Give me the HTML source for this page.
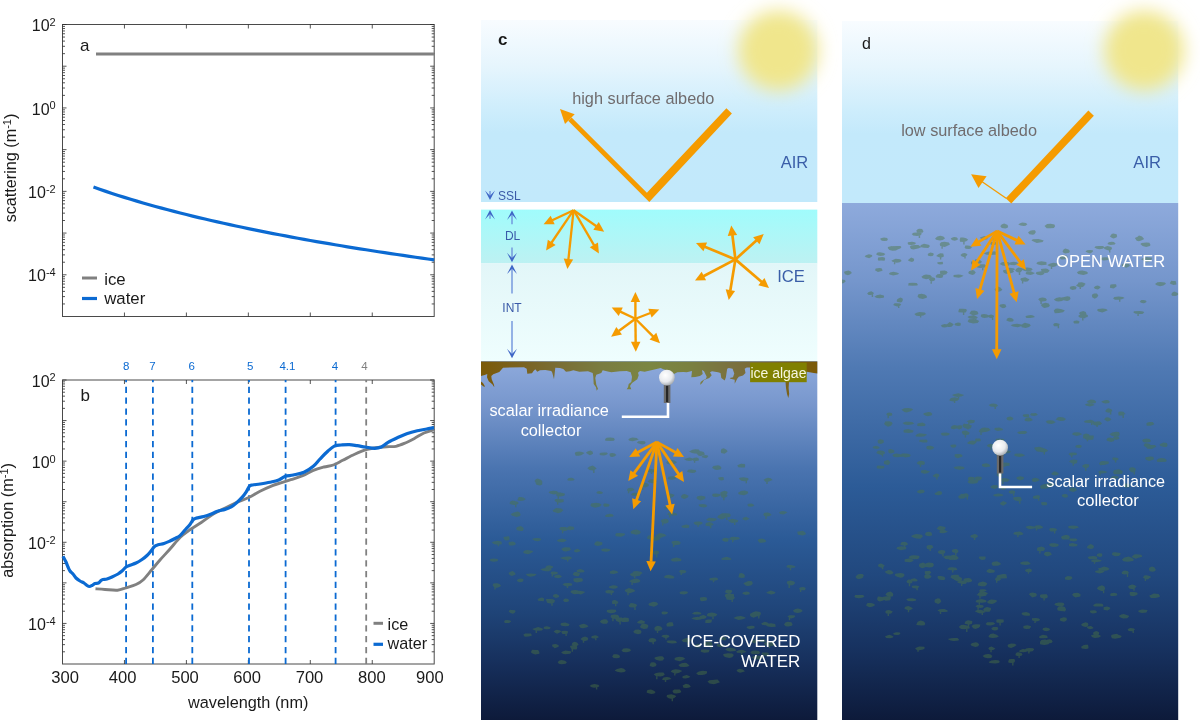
<!DOCTYPE html>
<html><head><meta charset="utf-8"><title>figure</title>
<style>html,body{margin:0;padding:0;background:#fff;}body{width:1200px;height:720px;overflow:hidden;}svg{display:block;}</style>
</head><body>
<svg width="1200" height="720" viewBox="0 0 1200 720" style="will-change:transform" font-family='"Liberation Sans", sans-serif'>
<rect width="1200" height="720" fill="#fff"/>
<rect x="62.5" y="24.5" width="371.7" height="292.0" fill="none" stroke="#2a2a2a" stroke-width="1" opacity="0.85"/>
<path d="M62.5 24.50h4M434.2 24.50h-4M62.5 53.66h2.5M434.2 53.66h-2.5M62.5 46.31h2.5M434.2 46.31h-2.5M62.5 41.10h2.5M434.2 41.10h-2.5M62.5 37.06h2.5M434.2 37.06h-2.5M62.5 33.75h2.5M434.2 33.75h-2.5M62.5 30.96h2.5M434.2 30.96h-2.5M62.5 28.54h2.5M434.2 28.54h-2.5M62.5 26.41h2.5M434.2 26.41h-2.5M62.5 66.21h4M434.2 66.21h-4M62.5 95.37h2.5M434.2 95.37h-2.5M62.5 88.03h2.5M434.2 88.03h-2.5M62.5 82.81h2.5M434.2 82.81h-2.5M62.5 78.77h2.5M434.2 78.77h-2.5M62.5 75.47h2.5M434.2 75.47h-2.5M62.5 72.68h2.5M434.2 72.68h-2.5M62.5 70.26h2.5M434.2 70.26h-2.5M62.5 68.12h2.5M434.2 68.12h-2.5M62.5 107.93h4M434.2 107.93h-4M62.5 137.09h2.5M434.2 137.09h-2.5M62.5 129.74h2.5M434.2 129.74h-2.5M62.5 124.53h2.5M434.2 124.53h-2.5M62.5 120.49h2.5M434.2 120.49h-2.5M62.5 117.18h2.5M434.2 117.18h-2.5M62.5 114.39h2.5M434.2 114.39h-2.5M62.5 111.97h2.5M434.2 111.97h-2.5M62.5 109.84h2.5M434.2 109.84h-2.5M62.5 149.64h4M434.2 149.64h-4M62.5 178.80h2.5M434.2 178.80h-2.5M62.5 171.45h2.5M434.2 171.45h-2.5M62.5 166.24h2.5M434.2 166.24h-2.5M62.5 162.20h2.5M434.2 162.20h-2.5M62.5 158.90h2.5M434.2 158.90h-2.5M62.5 156.10h2.5M434.2 156.10h-2.5M62.5 153.69h2.5M434.2 153.69h-2.5M62.5 151.55h2.5M434.2 151.55h-2.5M62.5 191.36h4M434.2 191.36h-4M62.5 220.51h2.5M434.2 220.51h-2.5M62.5 213.17h2.5M434.2 213.17h-2.5M62.5 207.96h2.5M434.2 207.96h-2.5M62.5 203.91h2.5M434.2 203.91h-2.5M62.5 200.61h2.5M434.2 200.61h-2.5M62.5 197.82h2.5M434.2 197.82h-2.5M62.5 195.40h2.5M434.2 195.40h-2.5M62.5 193.27h2.5M434.2 193.27h-2.5M62.5 233.07h4M434.2 233.07h-4M62.5 262.23h2.5M434.2 262.23h-2.5M62.5 254.88h2.5M434.2 254.88h-2.5M62.5 249.67h2.5M434.2 249.67h-2.5M62.5 245.63h2.5M434.2 245.63h-2.5M62.5 242.33h2.5M434.2 242.33h-2.5M62.5 239.53h2.5M434.2 239.53h-2.5M62.5 237.11h2.5M434.2 237.11h-2.5M62.5 234.98h2.5M434.2 234.98h-2.5M62.5 274.79h4M434.2 274.79h-4M62.5 303.94h2.5M434.2 303.94h-2.5M62.5 296.60h2.5M434.2 296.60h-2.5M62.5 291.39h2.5M434.2 291.39h-2.5M62.5 287.34h2.5M434.2 287.34h-2.5M62.5 284.04h2.5M434.2 284.04h-2.5M62.5 281.25h2.5M434.2 281.25h-2.5M62.5 278.83h2.5M434.2 278.83h-2.5M62.5 276.69h2.5M434.2 276.69h-2.5M124.45 316.5v-4M124.45 24.5v4M186.40 316.5v-4M186.40 24.5v4M248.35 316.5v-4M248.35 24.5v4M310.30 316.5v-4M310.30 24.5v4M372.25 316.5v-4M372.25 24.5v4" stroke="#2a2a2a" stroke-width="1" fill="none" opacity="0.8"/>
<text x="55.7" y="31.1" text-anchor="end" font-size="16" fill="#1a1a1a">10<tspan font-size="11" dy="-5.2">2</tspan></text>
<text x="55.7" y="114.5" text-anchor="end" font-size="16" fill="#1a1a1a">10<tspan font-size="11" dy="-5.2">0</tspan></text>
<text x="55.7" y="198.0" text-anchor="end" font-size="16" fill="#1a1a1a">10<tspan font-size="11" dy="-5.2">-2</tspan></text>
<text x="55.7" y="281.4" text-anchor="end" font-size="16" fill="#1a1a1a">10<tspan font-size="11" dy="-5.2">-4</tspan></text>
<text x="80" y="51" font-size="17" fill="#1a1a1a">a</text>
<line x1="96" y1="54" x2="434" y2="54" stroke="#808080" stroke-width="3"/>
<path d="M93.47 187.10 L99.67 189.27 L105.87 191.38 L112.06 193.43 L118.25 195.43 L124.45 197.38 L130.64 199.28 L136.84 201.14 L143.03 202.95 L149.23 204.72 L155.43 206.45 L161.62 208.14 L167.81 209.80 L174.01 211.42 L180.20 213.01 L186.40 214.56 L192.59 216.09 L198.79 217.58 L204.99 219.05 L211.18 220.49 L217.38 221.90 L223.57 223.29 L229.76 224.65 L235.96 225.99 L242.16 227.31 L248.35 228.60 L254.55 229.87 L260.74 231.12 L266.94 232.36 L273.13 233.57 L279.33 234.76 L285.52 235.94 L291.72 237.10 L297.91 238.24 L304.11 239.36 L310.30 240.47 L316.50 241.56 L322.69 242.64 L328.88 243.70 L335.08 244.75 L341.27 245.78 L347.47 246.80 L353.66 247.81 L359.86 248.80 L366.06 249.78 L372.25 250.75 L378.44 251.71 L384.64 252.65 L390.83 253.58 L397.03 254.51 L403.22 255.42 L409.42 256.32 L415.61 257.21 L421.81 258.09 L428.00 258.96 L434.20 259.82" stroke="#0b6ad2" stroke-width="3.2" fill="none"/>
<line x1="82" y1="278" x2="97" y2="278" stroke="#808080" stroke-width="3"/>
<line x1="82" y1="298.5" x2="97" y2="298.5" stroke="#0b6ad2" stroke-width="3.2"/>
<text x="104.2" y="284.7" font-size="16.8" fill="#1a1a1a">ice</text>
<text x="104.2" y="304.4" font-size="16.8" fill="#1a1a1a">water</text>
<text transform="translate(16.4 168) rotate(-90)" text-anchor="middle" font-size="16.2" fill="#1a1a1a">scattering (m<tspan font-size="11" dy="-5.2">-1</tspan><tspan dy="5.2">)</tspan></text>
<rect x="62.5" y="380" width="371.7" height="284" fill="none" stroke="#2a2a2a" stroke-width="1" opacity="0.85"/>
<path d="M62.5 380.00h4M434.2 380.00h-4M62.5 408.36h2.5M434.2 408.36h-2.5M62.5 401.21h2.5M434.2 401.21h-2.5M62.5 396.14h2.5M434.2 396.14h-2.5M62.5 392.21h2.5M434.2 392.21h-2.5M62.5 389.00h2.5M434.2 389.00h-2.5M62.5 386.28h2.5M434.2 386.28h-2.5M62.5 383.93h2.5M434.2 383.93h-2.5M62.5 381.86h2.5M434.2 381.86h-2.5M62.5 420.57h4M434.2 420.57h-4M62.5 448.93h2.5M434.2 448.93h-2.5M62.5 441.79h2.5M434.2 441.79h-2.5M62.5 436.72h2.5M434.2 436.72h-2.5M62.5 432.78h2.5M434.2 432.78h-2.5M62.5 429.57h2.5M434.2 429.57h-2.5M62.5 426.86h2.5M434.2 426.86h-2.5M62.5 424.50h2.5M434.2 424.50h-2.5M62.5 422.43h2.5M434.2 422.43h-2.5M62.5 461.14h4M434.2 461.14h-4M62.5 489.50h2.5M434.2 489.50h-2.5M62.5 482.36h2.5M434.2 482.36h-2.5M62.5 477.29h2.5M434.2 477.29h-2.5M62.5 473.36h2.5M434.2 473.36h-2.5M62.5 470.14h2.5M434.2 470.14h-2.5M62.5 467.43h2.5M434.2 467.43h-2.5M62.5 465.07h2.5M434.2 465.07h-2.5M62.5 463.00h2.5M434.2 463.00h-2.5M62.5 501.71h4M434.2 501.71h-4M62.5 530.07h2.5M434.2 530.07h-2.5M62.5 522.93h2.5M434.2 522.93h-2.5M62.5 517.86h2.5M434.2 517.86h-2.5M62.5 513.93h2.5M434.2 513.93h-2.5M62.5 510.72h2.5M434.2 510.72h-2.5M62.5 508.00h2.5M434.2 508.00h-2.5M62.5 505.65h2.5M434.2 505.65h-2.5M62.5 503.57h2.5M434.2 503.57h-2.5M62.5 542.29h4M434.2 542.29h-4M62.5 570.64h2.5M434.2 570.64h-2.5M62.5 563.50h2.5M434.2 563.50h-2.5M62.5 558.43h2.5M434.2 558.43h-2.5M62.5 554.50h2.5M434.2 554.50h-2.5M62.5 551.29h2.5M434.2 551.29h-2.5M62.5 548.57h2.5M434.2 548.57h-2.5M62.5 546.22h2.5M434.2 546.22h-2.5M62.5 544.14h2.5M434.2 544.14h-2.5M62.5 582.86h4M434.2 582.86h-4M62.5 611.22h2.5M434.2 611.22h-2.5M62.5 604.07h2.5M434.2 604.07h-2.5M62.5 599.00h2.5M434.2 599.00h-2.5M62.5 595.07h2.5M434.2 595.07h-2.5M62.5 591.86h2.5M434.2 591.86h-2.5M62.5 589.14h2.5M434.2 589.14h-2.5M62.5 586.79h2.5M434.2 586.79h-2.5M62.5 584.71h2.5M434.2 584.71h-2.5M62.5 623.43h4M434.2 623.43h-4M62.5 651.79h2.5M434.2 651.79h-2.5M62.5 644.64h2.5M434.2 644.64h-2.5M62.5 639.57h2.5M434.2 639.57h-2.5M62.5 635.64h2.5M434.2 635.64h-2.5M62.5 632.43h2.5M434.2 632.43h-2.5M62.5 629.71h2.5M434.2 629.71h-2.5M62.5 627.36h2.5M434.2 627.36h-2.5M62.5 625.29h2.5M434.2 625.29h-2.5M124.45 664v-4M124.45 380v4M186.40 664v-4M186.40 380v4M248.35 664v-4M248.35 380v4M310.30 664v-4M310.30 380v4M372.25 664v-4M372.25 380v4" stroke="#2a2a2a" stroke-width="1" fill="none" opacity="0.8"/>
<text x="55.7" y="386.6" text-anchor="end" font-size="16" fill="#1a1a1a">10<tspan font-size="11" dy="-5.2">2</tspan></text>
<text x="55.7" y="467.7" text-anchor="end" font-size="16" fill="#1a1a1a">10<tspan font-size="11" dy="-5.2">0</tspan></text>
<text x="55.7" y="548.9" text-anchor="end" font-size="16" fill="#1a1a1a">10<tspan font-size="11" dy="-5.2">-2</tspan></text>
<text x="55.7" y="630.0" text-anchor="end" font-size="16" fill="#1a1a1a">10<tspan font-size="11" dy="-5.2">-4</tspan></text>
<text x="65.2" y="683" text-anchor="middle" font-size="16.6" fill="#1a1a1a">300</text>
<text x="122.6" y="683" text-anchor="middle" font-size="16.6" fill="#1a1a1a">400</text>
<text x="185.0" y="683" text-anchor="middle" font-size="16.6" fill="#1a1a1a">500</text>
<text x="247.2" y="683" text-anchor="middle" font-size="16.6" fill="#1a1a1a">600</text>
<text x="309.5" y="683" text-anchor="middle" font-size="16.6" fill="#1a1a1a">700</text>
<text x="371.9" y="683" text-anchor="middle" font-size="16.6" fill="#1a1a1a">800</text>
<text x="429.9" y="683" text-anchor="middle" font-size="16.6" fill="#1a1a1a">900</text>
<text x="80.5" y="401" font-size="17" fill="#1a1a1a">b</text>
<line x1="126.1" y1="664" x2="126.1" y2="380" stroke="#0b6ad2" stroke-width="1.8" stroke-dasharray="6.25 4.59"/>
<line x1="152.9" y1="664" x2="152.9" y2="380" stroke="#0b6ad2" stroke-width="1.8" stroke-dasharray="6.25 4.59"/>
<line x1="192.3" y1="664" x2="192.3" y2="380" stroke="#0b6ad2" stroke-width="1.8" stroke-dasharray="6.25 4.59"/>
<line x1="249.0" y1="664" x2="249.0" y2="380" stroke="#0b6ad2" stroke-width="1.8" stroke-dasharray="6.25 4.59"/>
<line x1="285.6" y1="664" x2="285.6" y2="380" stroke="#0b6ad2" stroke-width="1.8" stroke-dasharray="6.25 4.59"/>
<line x1="335.6" y1="664" x2="335.6" y2="380" stroke="#0b6ad2" stroke-width="1.8" stroke-dasharray="6.25 4.59"/>
<line x1="366.2" y1="664" x2="366.2" y2="380" stroke="#808080" stroke-width="1.8" stroke-dasharray="6.25 4.59"/>
<text x="126.3" y="370.3" text-anchor="middle" font-size="11.5" fill="#0b6ad2">8</text>
<text x="152.5" y="370.3" text-anchor="middle" font-size="11.5" fill="#0b6ad2">7</text>
<text x="191.7" y="370.3" text-anchor="middle" font-size="11.5" fill="#0b6ad2">6</text>
<text x="250.3" y="370.3" text-anchor="middle" font-size="11.5" fill="#0b6ad2">5</text>
<text x="287.4" y="370.3" text-anchor="middle" font-size="11.5" fill="#0b6ad2">4.1</text>
<text x="335.0" y="370.3" text-anchor="middle" font-size="11.5" fill="#0b6ad2">4</text>
<text x="364.4" y="370.3" text-anchor="middle" font-size="11.5" fill="#808080">4</text>
<path d="M95.50 588.80C97.08 588.92 101.33 589.27 105.00 589.50C108.67 589.73 114.00 590.48 117.50 590.20C121.00 589.92 122.92 588.75 126.00 587.80C129.08 586.85 133.17 585.80 136.00 584.50C138.83 583.20 140.33 582.50 143.00 580.00C145.67 577.50 149.17 572.83 152.00 569.50C154.83 566.17 157.00 563.42 160.00 560.00C163.00 556.58 166.67 552.75 170.00 549.00C173.33 545.25 176.88 540.57 180.00 537.50C183.12 534.43 185.21 533.10 188.75 530.60C192.29 528.10 197.08 525.31 201.25 522.50C205.42 519.69 209.58 516.25 213.75 513.75C217.92 511.25 222.50 509.38 226.25 507.50C230.00 505.62 232.50 504.17 236.25 502.50C240.00 500.83 244.79 499.38 248.75 497.50C252.71 495.62 256.04 493.23 260.00 491.25C263.96 489.27 269.17 486.94 272.50 485.60C275.83 484.26 276.97 484.18 280.00 483.20C283.03 482.22 286.92 480.95 290.70 479.70C294.48 478.45 298.93 477.27 302.70 475.70C306.47 474.13 309.75 471.75 313.30 470.30C316.85 468.85 320.67 467.88 324.00 467.00C327.33 466.12 330.18 466.12 333.30 465.00C336.42 463.88 339.13 462.08 342.70 460.30C346.27 458.52 350.82 456.07 354.70 454.30C358.58 452.53 362.45 450.80 366.00 449.70C369.55 448.60 372.55 448.20 376.00 447.70C379.45 447.20 383.37 446.93 386.70 446.70C390.03 446.47 392.90 446.92 396.00 446.30C399.10 445.68 402.18 444.33 405.30 443.00C408.42 441.67 411.58 439.97 414.70 438.30C417.82 436.63 420.78 434.43 424.00 433.00C427.22 431.57 432.33 430.25 434.00 429.70" stroke="#808080" stroke-width="2.9" fill="none" stroke-linejoin="round"/>
<path d="M63.00 556.20C63.50 557.17 65.17 560.20 66.00 562.00C66.83 563.80 67.33 565.50 68.00 567.00C68.67 568.50 69.17 569.83 70.00 571.00C70.83 572.17 72.00 572.83 73.00 574.00C74.00 575.17 74.83 576.83 76.00 578.00C77.17 579.17 78.67 580.17 80.00 581.00C81.33 581.83 82.83 582.25 84.00 583.00C85.17 583.75 86.08 584.92 87.00 585.50C87.92 586.08 88.67 586.50 89.50 586.50C90.33 586.50 91.08 586.00 92.00 585.50C92.92 585.00 93.92 583.92 95.00 583.50C96.08 583.08 97.50 583.50 98.50 583.00C99.50 582.50 100.25 581.08 101.00 580.50C101.75 579.92 102.00 579.75 103.00 579.50C104.00 579.25 105.50 579.42 107.00 579.00C108.50 578.58 110.17 577.83 112.00 577.00C113.83 576.17 116.33 575.00 118.00 574.00C119.67 573.00 120.67 572.17 122.00 571.00C123.33 569.83 124.67 567.97 126.00 567.00C127.33 566.03 128.33 565.87 130.00 565.20C131.67 564.53 134.00 563.95 136.00 563.00C138.00 562.05 140.17 560.75 142.00 559.50C143.83 558.25 145.50 556.92 147.00 555.50C148.50 554.08 149.75 552.50 151.00 551.00C152.25 549.50 153.33 547.53 154.50 546.50C155.67 545.47 156.42 545.30 158.00 544.80C159.58 544.30 162.00 544.13 164.00 543.50C166.00 542.87 168.17 541.83 170.00 541.00C171.83 540.17 173.33 539.40 175.00 538.50C176.67 537.60 178.33 537.02 180.00 535.60C181.67 534.18 183.33 531.87 185.00 530.00C186.67 528.13 188.65 526.11 190.00 524.40C191.35 522.69 192.06 520.80 193.10 519.75C194.14 518.70 194.47 518.64 196.25 518.10C198.03 517.56 201.25 517.18 203.75 516.50C206.25 515.82 208.96 514.88 211.25 514.00C213.54 513.12 215.21 512.02 217.50 511.25C219.79 510.48 222.71 510.12 225.00 509.40C227.29 508.67 229.38 507.95 231.25 506.90C233.12 505.85 234.38 504.77 236.25 503.10C238.12 501.43 240.83 498.77 242.50 496.90C244.17 495.03 245.10 493.67 246.25 491.90C247.40 490.12 248.36 487.40 249.40 486.25C250.44 485.10 250.73 485.38 252.50 485.00C254.27 484.62 257.08 484.46 260.00 484.00C262.92 483.54 266.88 482.92 270.00 482.25C273.12 481.58 276.20 480.99 278.75 480.00C281.30 479.01 282.88 477.13 285.30 476.30C287.73 475.47 290.18 475.67 293.30 475.00C296.42 474.33 300.67 473.75 304.00 472.30C307.33 470.85 310.63 468.52 313.30 466.30C315.97 464.08 317.55 461.55 320.00 459.00C322.45 456.45 325.55 453.18 328.00 451.00C330.45 448.82 332.48 446.90 334.70 445.90C336.92 444.90 338.87 445.22 341.30 445.00C343.73 444.78 346.63 444.48 349.30 444.60C351.97 444.72 354.63 445.30 357.30 445.70C359.97 446.10 362.40 446.57 365.30 447.00C368.20 447.43 372.03 448.30 374.70 448.30C377.37 448.30 379.08 448.00 381.30 447.00C383.52 446.00 385.33 443.85 388.00 442.30C390.67 440.75 394.18 439.13 397.30 437.70C400.42 436.27 403.37 434.87 406.70 433.70C410.03 432.53 413.97 431.48 417.30 430.70C420.63 429.92 423.92 429.50 426.70 429.00C429.48 428.50 432.78 427.92 434.00 427.70" stroke="#0b6ad2" stroke-width="3.2" fill="none" stroke-linejoin="round"/>
<line x1="373.5" y1="623.3" x2="383" y2="623.3" stroke="#808080" stroke-width="3"/>
<line x1="373.5" y1="644.3" x2="383" y2="644.3" stroke="#0b6ad2" stroke-width="3.2"/>
<text x="387.6" y="629.7" font-size="16.2" fill="#1a1a1a">ice</text>
<text x="387.6" y="648.6" font-size="16.2" fill="#1a1a1a">water</text>
<text transform="translate(12.8 520.4) rotate(-90)" text-anchor="middle" font-size="16.3" fill="#1a1a1a">absorption (m<tspan font-size="11" dy="-5.2">-1</tspan><tspan dy="5.2">)</tspan></text>
<text x="248.2" y="707.7" text-anchor="middle" font-size="16.3" fill="#1a1a1a">wavelength (nm)</text>
<defs>
<linearGradient id="air" x1="0" y1="0" x2="0" y2="1">
 <stop offset="0" stop-color="#f8fcff"/><stop offset="0.25" stop-color="#e6f5fd"/><stop offset="0.5" stop-color="#cdedfc"/><stop offset="0.62" stop-color="#c3e9fb"/><stop offset="1" stop-color="#c2e9fb"/>
</linearGradient>
<linearGradient id="dl" x1="0" y1="0" x2="0" y2="1">
 <stop offset="0" stop-color="#a0fcfc"/><stop offset="1" stop-color="#bdf1f2"/>
</linearGradient>
<linearGradient id="int" x1="0" y1="0" x2="0" y2="1">
 <stop offset="0" stop-color="#e2f6f8"/><stop offset="1" stop-color="#effefe"/>
</linearGradient>
<linearGradient id="wc" x1="0" y1="0" x2="0" y2="1">
 <stop offset="0" stop-color="#8eaadc"/><stop offset="0.12" stop-color="#7897cd"/><stop offset="0.3" stop-color="#4a74b0"/><stop offset="0.5" stop-color="#2b5a96"/><stop offset="0.7" stop-color="#1f4478"/><stop offset="0.85" stop-color="#162e5a"/><stop offset="1" stop-color="#0d1a3a"/>
</linearGradient>
<linearGradient id="wd" x1="0" y1="0" x2="0" y2="1">
 <stop offset="0" stop-color="#8eaadc"/><stop offset="0.15" stop-color="#7596cc"/><stop offset="0.32" stop-color="#4f79b3"/><stop offset="0.55" stop-color="#2c5b97"/><stop offset="0.72" stop-color="#21487e"/><stop offset="0.86" stop-color="#173260"/><stop offset="1" stop-color="#0d1a3a"/>
</linearGradient>
<linearGradient id="alg" gradientUnits="userSpaceOnUse" x1="481" y1="0" x2="817.3" y2="0"><stop offset="0.000" stop-color="#7b5a08"/><stop offset="0.116" stop-color="#7a6220"/><stop offset="0.235" stop-color="#7a6e35"/><stop offset="0.354" stop-color="#7a7c40"/><stop offset="0.503" stop-color="#7b8642"/><stop offset="0.621" stop-color="#7a8040"/><stop offset="0.740" stop-color="#7a7140"/><stop offset="0.859" stop-color="#7a6830"/><stop offset="0.949" stop-color="#7b5d0c"/><stop offset="1.000" stop-color="#7b5a08"/></linearGradient>
<radialGradient id="ball" cx="0.4" cy="0.35" r="0.7">
 <stop offset="0" stop-color="#ffffff"/><stop offset="0.6" stop-color="#e8eaee"/><stop offset="1" stop-color="#9ea4aa"/>
</radialGradient>
<filter id="sunblur" x="-50%" y="-50%" width="200%" height="200%"><feGaussianBlur stdDeviation="9"/></filter>
<clipPath id="cclip"><rect x="481" y="361" width="336.3" height="359"/></clipPath>
<clipPath id="dclip"><rect x="842" y="203" width="336.2" height="517"/></clipPath>
</defs>
<rect x="481.0" y="20" width="336.29999999999995" height="182" fill="url(#air)"/>
<rect x="481.0" y="209.6" width="336.29999999999995" height="53.8" fill="url(#dl)"/>
<rect x="481.0" y="263.4" width="336.29999999999995" height="97.8" fill="url(#int)"/>
<rect x="481.0" y="361" width="336.29999999999995" height="359" fill="url(#wc)"/>
<rect x="842.0" y="21" width="336.20000000000005" height="182" fill="url(#air)"/>
<rect x="842.0" y="203" width="336.20000000000005" height="517" fill="url(#wd)"/>
<g clip-path="url(#cclip)" fill="#4d7542" opacity="0.45"><path d="M640.5 580.9 L639.2 582.2 L634.6 583.2 L632.0 582.4 L629.0 581.3 L632.1 579.6 L636.2 578.5 L639.2 579.5ZM631.4 580.9h1.4v4.0h-1.4Z"/><path d="M662.5 447.5 L662.0 449.3 L658.9 449.8 L656.2 449.2 L655.6 447.9 L656.6 446.0 L659.5 445.9 L661.1 446.6ZM656.6 447.8h1.4v3.6h-1.4Z"/><path d="M739.9 538.9 L738.0 539.5 L733.3 540.4 L730.0 539.6 L728.8 538.9 L731.2 537.1 L733.3 536.7 L738.9 537.3ZM732.0 538.5h1.4v3.8h-1.4Z"/><path d="M748.7 479.0 L747.7 480.5 L744.5 481.2 L741.3 480.7 L738.9 478.8 L739.9 477.7 L743.4 477.3 L747.7 478.0ZM745.6 479.3h1.4v4.0h-1.4Z"/><path d="M563.6 500.6 L563.6 501.9 L559.9 502.7 L556.1 502.1 L554.5 500.4 L555.5 499.1 L558.8 499.0 L564.0 499.4ZM557.0 500.7h1.4v3.7h-1.4Z"/><path d="M775.6 592.2 L774.3 593.7 L771.2 594.5 L767.9 593.6 L766.2 592.8 L767.7 591.7 L770.9 590.6 L773.6 591.5Z"/><path d="M580.5 550.5 L579.6 551.6 L576.4 552.6 L574.3 551.8 L574.1 550.5 L574.8 549.7 L577.7 548.7 L579.3 549.7Z"/><path d="M648.4 625.9 L647.3 628.6 L644.0 629.0 L640.8 628.1 L640.1 626.5 L641.7 624.0 L644.2 623.5 L647.7 624.8Z"/><path d="M618.3 587.1 L615.8 588.5 L613.0 588.8 L609.5 588.1 L608.9 586.8 L610.4 585.9 L613.0 585.3 L615.9 585.6Z"/><path d="M690.3 676.7 L688.8 677.7 L685.5 678.5 L683.1 678.2 L682.1 677.0 L683.2 675.9 L686.7 675.0 L689.1 675.9Z"/><path d="M596.7 468.6 L594.3 470.0 L592.6 470.6 L589.5 469.9 L587.4 468.3 L589.1 466.7 L592.7 465.4 L594.6 466.8ZM593.1 468.2h1.4v4.7h-1.4Z"/><path d="M677.2 514.0 L677.0 515.2 L672.8 515.6 L669.3 515.6 L667.0 514.2 L668.6 512.8 L673.3 512.5 L675.4 512.9ZM668.9 514.2h1.4v3.2h-1.4Z"/><path d="M645.1 621.8 L643.9 623.4 L640.9 623.8 L637.9 623.3 L637.0 622.3 L639.2 620.7 L641.1 620.0 L644.0 620.9Z"/><path d="M774.7 644.1 L773.8 645.7 L769.5 646.2 L766.0 645.8 L763.6 643.5 L765.7 642.3 L769.4 641.6 L774.0 642.8ZM768.8 643.9h1.4v4.0h-1.4Z"/><path d="M669.5 636.5 L668.3 637.5 L666.2 638.2 L663.6 637.5 L661.2 636.3 L663.1 634.9 L666.7 634.7 L668.9 635.6ZM665.3 636.4h1.4v3.2h-1.4Z"/><path d="M588.5 626.2 L587.1 627.2 L582.9 628.3 L580.4 627.7 L579.0 625.5 L580.8 624.5 L583.8 623.8 L586.5 624.7Z"/><path d="M660.5 538.5 L659.3 539.8 L655.3 541.1 L651.3 539.7 L650.7 538.6 L650.9 536.9 L655.9 536.5 L658.0 537.1Z"/><path d="M558.4 492.3 L557.6 493.7 L554.1 494.4 L550.6 493.8 L548.6 492.4 L549.9 491.2 L553.4 490.8 L556.5 490.9Z"/><path d="M664.4 658.2 L662.7 660.6 L659.7 660.7 L656.0 659.7 L654.1 657.9 L656.0 657.1 L659.7 656.3 L662.4 656.2Z"/><path d="M745.2 465.1 L744.8 467.5 L741.0 467.4 L738.4 467.3 L737.2 465.5 L738.9 464.4 L741.1 463.7 L744.6 463.9Z"/><path d="M542.5 481.6 L540.8 482.3 L537.7 483.4 L535.6 482.5 L534.6 481.1 L535.5 479.4 L537.5 478.6 L540.9 479.8Z"/><path d="M728.6 539.8 L728.0 541.4 L725.3 541.8 L723.0 541.0 L721.9 539.7 L723.3 538.2 L725.2 537.8 L728.8 538.6Z"/><path d="M625.9 670.7 L624.4 672.1 L621.0 672.6 L617.2 671.8 L614.6 670.6 L617.0 669.0 L621.2 668.1 L623.9 668.7Z"/><path d="M666.5 535.8 L663.0 537.1 L660.2 538.0 L657.1 537.3 L655.6 536.0 L657.0 534.4 L659.8 533.1 L664.5 534.1Z"/><path d="M676.3 696.3 L673.9 698.2 L670.8 698.7 L668.6 698.2 L666.6 696.7 L667.0 695.1 L671.3 694.3 L674.8 695.2ZM671.6 696.7h1.4v4.6h-1.4Z"/><path d="M673.5 507.1 L672.7 508.4 L668.7 509.2 L664.8 508.6 L663.5 507.8 L666.8 506.1 L669.9 505.6 L673.2 505.8ZM668.6 507.4h1.4v3.7h-1.4Z"/><path d="M792.6 624.6 L791.8 625.8 L788.2 626.5 L785.7 626.3 L784.0 624.6 L785.4 622.4 L787.8 621.7 L791.4 622.2Z"/><path d="M727.7 495.7 L726.4 496.9 L723.8 497.9 L721.3 497.2 L721.0 495.2 L720.8 493.6 L724.7 492.7 L725.7 493.7ZM723.1 495.4h1.4v4.8h-1.4Z"/><path d="M693.7 459.0 L692.2 460.5 L689.2 460.9 L686.4 460.5 L683.9 459.1 L685.8 458.4 L689.6 457.5 L692.1 458.3Z"/><path d="M577.3 647.8 L576.7 649.2 L572.9 649.6 L571.2 648.8 L570.2 647.1 L570.1 646.1 L573.5 645.0 L576.5 645.6ZM571.6 647.4h1.4v4.3h-1.4Z"/><path d="M704.8 453.9 L704.2 455.0 L700.9 455.9 L698.7 455.7 L696.7 453.7 L698.6 451.6 L701.1 451.2 L703.6 452.1Z"/><path d="M574.4 528.1 L573.8 529.4 L570.0 530.2 L567.1 529.4 L566.0 528.5 L568.2 526.8 L569.7 526.3 L573.5 526.8Z"/><path d="M700.6 646.2 L700.8 647.3 L697.3 647.7 L695.6 647.2 L694.2 645.7 L695.4 644.7 L698.1 643.8 L700.3 644.7Z"/><path d="M802.7 611.1 L800.4 612.5 L797.4 613.1 L794.1 612.3 L793.0 610.5 L795.4 609.0 L798.0 608.6 L801.3 609.6Z"/><path d="M543.1 628.9 L541.9 630.4 L537.3 630.8 L535.1 630.4 L532.1 629.0 L534.5 628.2 L538.1 627.1 L541.9 628.2ZM535.6 629.2h1.4v3.8h-1.4Z"/><path d="M565.0 494.4 L564.0 495.8 L560.2 496.6 L556.7 496.3 L556.2 494.6 L557.3 492.6 L560.4 492.4 L564.7 493.4ZM557.6 494.6h1.4v4.2h-1.4Z"/><path d="M618.3 572.7 L616.5 573.3 L613.7 574.1 L609.9 573.6 L609.8 572.3 L610.4 571.3 L613.2 570.2 L617.0 571.0Z"/><path d="M580.2 573.7 L578.6 576.3 L576.8 576.3 L573.9 575.5 L572.7 574.2 L574.1 572.2 L576.7 572.1 L578.9 572.8Z"/><path d="M562.0 576.8 L560.7 577.5 L558.2 578.3 L554.6 577.6 L554.1 576.4 L554.6 575.4 L558.8 574.6 L560.6 575.6Z"/><path d="M721.6 494.7 L718.9 496.6 L716.2 497.0 L713.3 496.7 L712.1 495.3 L712.8 493.7 L716.0 493.4 L719.6 493.9Z"/><path d="M673.3 624.2 L673.3 626.0 L669.6 626.6 L666.8 626.5 L666.5 624.5 L667.1 623.2 L669.3 622.3 L672.5 622.3Z"/><path d="M658.3 604.1 L656.6 605.5 L653.9 606.7 L649.0 605.6 L648.4 604.0 L649.8 602.9 L653.3 601.7 L656.5 602.3Z"/><path d="M746.5 651.7 L744.2 652.7 L741.2 653.0 L737.0 652.8 L736.2 651.5 L738.7 650.3 L742.0 649.7 L743.6 650.3ZM740.9 651.5h1.4v3.4h-1.4Z"/><path d="M716.9 519.5 L714.9 521.0 L711.4 521.5 L708.3 520.9 L706.1 519.8 L708.9 517.7 L712.5 517.9 L716.2 518.5Z"/><path d="M572.4 584.6 L571.9 585.5 L566.9 586.6 L564.5 585.7 L562.5 584.4 L564.2 583.3 L568.6 583.1 L571.3 583.2ZM566.8 584.6h1.4v3.5h-1.4Z"/><path d="M676.1 478.2 L674.4 479.3 L671.7 479.8 L668.2 479.3 L667.7 478.2 L668.8 476.7 L672.5 476.2 L675.7 476.6Z"/><path d="M766.4 541.1 L765.1 542.3 L761.6 542.8 L759.6 542.7 L757.6 540.4 L759.0 539.1 L761.9 538.6 L764.3 539.3Z"/><path d="M653.9 537.6 L653.3 538.9 L651.1 539.4 L647.6 539.1 L647.0 537.4 L648.1 535.8 L650.4 535.1 L653.6 535.7ZM651.2 537.5h1.4v4.4h-1.4Z"/><path d="M536.1 574.8 L534.5 575.9 L530.2 576.8 L527.6 576.1 L526.6 575.0 L525.9 574.0 L530.7 573.4 L536.4 573.9Z"/><path d="M563.3 510.2 L561.2 512.2 L558.1 513.3 L553.3 511.8 L552.5 510.4 L554.6 508.9 L556.3 507.9 L561.3 508.4Z"/><path d="M721.4 467.8 L720.9 469.3 L717.0 470.1 L714.7 469.6 L712.0 467.7 L713.5 466.1 L718.1 465.3 L720.2 466.1Z"/><path d="M707.3 506.0 L706.1 506.9 L703.7 507.4 L700.0 506.8 L698.8 505.5 L698.8 504.4 L702.3 504.1 L705.8 504.6Z"/><path d="M641.5 631.7 L640.9 633.5 L638.1 634.3 L634.6 633.2 L633.2 631.7 L635.2 629.8 L638.5 629.5 L640.7 630.3Z"/><path d="M570.9 549.4 L569.6 550.6 L566.2 551.5 L563.4 551.2 L561.2 548.9 L563.7 547.5 L565.8 547.3 L569.8 547.5Z"/><path d="M578.6 644.5 L577.0 646.1 L575.5 646.7 L573.3 646.3 L571.7 644.3 L572.4 642.8 L574.5 641.7 L577.0 642.6ZM575.1 644.4h1.4v4.8h-1.4Z"/><path d="M757.6 641.2 L756.1 642.6 L754.6 643.5 L752.1 642.2 L750.9 641.3 L752.1 640.2 L755.0 639.6 L756.7 639.9Z"/><path d="M727.7 492.9 L726.0 494.8 L724.3 495.7 L721.6 494.3 L719.9 493.2 L721.0 492.0 L724.3 490.7 L727.2 491.5Z"/><path d="M620.0 656.0 L619.5 657.7 L616.7 658.3 L613.6 658.1 L612.1 656.4 L613.7 654.2 L616.7 654.2 L618.5 654.8Z"/><path d="M609.8 504.9 L608.7 506.6 L606.9 506.7 L604.3 506.7 L603.0 505.1 L604.2 503.4 L606.1 503.4 L608.5 503.9Z"/><path d="M598.8 636.9 L598.0 637.8 L594.6 638.4 L592.0 638.2 L591.0 637.0 L592.2 635.9 L595.2 635.2 L597.1 635.8ZM595.1 637.0h1.4v3.2h-1.4Z"/><path d="M625.0 534.7 L623.5 535.8 L621.1 536.7 L615.8 536.2 L615.3 534.5 L616.1 533.2 L619.4 532.9 L624.7 533.4Z"/><path d="M569.0 600.2 L568.5 601.5 L566.1 602.1 L564.1 601.8 L563.1 600.3 L564.1 598.9 L565.6 598.4 L568.2 599.0Z"/><path d="M718.2 579.1 L717.5 580.1 L714.5 580.8 L710.1 580.3 L709.2 579.3 L709.8 578.3 L714.4 577.5 L716.9 577.8ZM712.8 579.1h1.4v3.2h-1.4Z"/><path d="M690.8 686.4 L689.3 687.6 L686.6 688.0 L683.5 687.8 L682.6 685.6 L684.5 684.5 L685.8 683.8 L688.9 684.4Z"/><path d="M542.4 483.0 L541.9 484.7 L539.7 485.4 L536.5 484.7 L535.5 483.1 L536.7 481.1 L539.1 481.1 L542.2 482.0Z"/><path d="M717.4 614.3 L715.7 616.3 L712.0 616.8 L707.5 616.2 L706.8 614.8 L708.1 613.3 L711.8 612.6 L714.4 613.0ZM712.3 614.6h1.4v4.6h-1.4Z"/><path d="M533.3 551.8 L530.1 553.5 L528.1 554.2 L523.8 553.3 L523.1 552.0 L524.6 550.6 L527.3 549.9 L532.1 550.7Z"/><path d="M628.9 620.3 L628.6 621.7 L625.3 622.1 L622.2 622.1 L619.5 619.5 L620.9 618.5 L624.7 617.5 L628.6 618.0Z"/><path d="M511.2 621.6 L509.1 622.9 L507.6 623.1 L504.9 622.9 L504.1 621.8 L504.9 620.3 L507.1 620.1 L510.2 620.5Z"/><path d="M618.9 616.3 L619.3 618.2 L615.5 619.0 L612.5 618.4 L610.5 617.1 L611.3 615.1 L614.7 614.5 L618.0 615.0ZM612.2 616.6h1.4v4.6h-1.4Z"/><path d="M592.9 453.2 L591.9 454.5 L589.9 455.2 L587.7 454.1 L585.9 452.8 L587.5 451.5 L590.5 450.5 L592.7 451.7Z"/><path d="M723.8 478.5 L723.8 480.1 L721.3 480.6 L719.5 480.1 L718.4 478.5 L718.5 477.4 L721.5 476.9 L723.6 477.3Z"/><path d="M623.0 619.1 L622.0 621.1 L619.3 622.2 L616.3 621.0 L615.5 619.5 L615.7 617.8 L618.9 617.5 L621.9 617.6ZM619.4 619.6h1.4v4.8h-1.4Z"/><path d="M668.0 612.7 L666.8 613.9 L664.6 614.6 L662.2 614.3 L661.4 612.7 L662.6 611.6 L664.9 611.5 L667.6 612.0Z"/><path d="M566.6 540.4 L564.0 542.0 L562.0 542.3 L557.9 541.4 L556.8 540.5 L558.5 539.4 L561.7 538.5 L565.5 539.5Z"/><path d="M676.9 462.3 L675.0 463.8 L672.0 464.7 L667.6 463.9 L666.1 462.8 L667.5 460.7 L671.6 459.7 L674.5 460.6Z"/><path d="M730.8 515.1 L729.9 517.0 L725.2 517.5 L721.0 516.9 L719.7 514.8 L722.1 513.2 L726.0 513.2 L729.5 513.6ZM726.1 515.2h1.4v4.9h-1.4Z"/><path d="M641.0 574.5 L639.9 575.7 L634.9 576.4 L631.8 576.2 L629.8 574.4 L631.3 573.2 L636.0 573.1 L638.5 573.5ZM633.9 574.7h1.4v3.5h-1.4Z"/><path d="M769.3 653.7 L768.0 655.3 L766.0 655.9 L763.0 655.3 L761.5 653.5 L762.4 652.6 L765.2 652.4 L767.4 652.6Z"/><path d="M585.2 592.1 L583.0 593.5 L580.9 594.5 L576.6 593.6 L574.3 592.7 L576.6 590.9 L579.8 590.8 L582.9 591.3Z"/><path d="M631.1 650.2 L629.6 651.6 L626.7 652.3 L623.1 651.9 L621.5 650.4 L623.5 648.6 L626.9 648.2 L629.6 648.8Z"/><path d="M515.8 543.8 L515.0 545.1 L512.7 545.4 L509.6 545.4 L508.5 543.7 L509.0 542.0 L512.8 541.4 L514.7 542.3Z"/><path d="M523.8 528.9 L522.7 530.9 L520.7 531.1 L517.2 530.3 L516.1 528.7 L517.1 526.9 L520.8 526.1 L523.2 527.5Z"/><path d="M702.7 618.5 L700.7 619.6 L696.4 619.9 L694.2 619.6 L691.3 618.6 L693.4 617.6 L697.7 616.7 L701.3 617.5Z"/><path d="M726.9 638.0 L725.3 640.4 L723.6 640.3 L720.4 639.9 L719.1 638.8 L720.3 637.1 L722.4 636.3 L724.7 637.0Z"/><path d="M588.2 638.5 L587.7 640.2 L585.0 641.1 L582.4 640.6 L580.5 639.1 L582.3 637.4 L585.1 636.5 L587.9 637.7ZM582.8 638.8h1.4v3.9h-1.4Z"/><path d="M754.6 627.4 L754.3 628.3 L749.7 629.2 L747.4 628.2 L746.5 627.4 L747.4 626.4 L751.4 625.7 L754.3 626.0Z"/><path d="M795.1 583.0 L793.6 584.8 L791.3 585.5 L788.2 584.7 L786.8 583.1 L787.0 581.5 L790.3 580.6 L794.1 581.4ZM788.5 583.1h1.4v4.8h-1.4Z"/><path d="M613.8 515.8 L613.0 516.6 L608.9 517.1 L605.8 517.1 L605.0 515.7 L606.5 514.5 L609.7 513.7 L612.4 514.2Z"/><path d="M525.7 498.9 L523.9 500.5 L521.1 501.0 L517.7 500.5 L517.7 499.2 L518.7 497.0 L521.5 497.1 L523.8 497.8Z"/><path d="M671.5 679.0 L669.1 679.6 L666.0 680.2 L662.2 679.9 L662.6 678.4 L663.6 677.4 L666.9 677.1 L669.6 677.5ZM664.8 678.7h1.4v3.2h-1.4Z"/><path d="M727.7 451.2 L726.6 452.2 L724.5 453.8 L721.2 452.9 L720.8 451.3 L721.4 449.1 L723.6 448.3 L726.2 449.6Z"/><path d="M616.4 611.5 L614.2 612.8 L610.8 613.2 L607.8 612.6 L606.6 611.5 L607.1 610.0 L611.3 609.4 L615.7 609.8Z"/><path d="M681.4 559.9 L681.1 561.1 L676.3 561.6 L672.9 561.6 L670.5 559.9 L672.3 558.4 L676.6 557.5 L680.9 558.7Z"/><path d="M567.9 632.5 L567.4 633.8 L565.0 634.1 L562.6 634.1 L561.2 632.1 L562.0 631.1 L564.8 630.7 L567.7 631.0ZM565.4 632.3h1.4v3.7h-1.4Z"/><path d="M682.3 671.1 L679.2 672.8 L675.2 673.7 L673.0 672.8 L670.7 671.7 L672.2 669.9 L675.6 669.3 L679.5 669.8ZM674.1 671.2h1.4v4.4h-1.4Z"/><path d="M656.6 664.8 L655.6 666.3 L652.9 667.0 L649.7 666.0 L649.9 664.6 L650.9 662.6 L653.3 662.3 L655.3 662.8Z"/><path d="M795.5 566.3 L794.5 567.8 L789.9 568.1 L787.1 567.5 L786.3 566.5 L787.8 565.0 L790.7 564.9 L793.0 565.4ZM789.8 566.5h1.4v3.8h-1.4Z"/><path d="M766.2 640.8 L765.2 641.9 L762.3 642.3 L759.0 641.8 L758.5 640.8 L759.1 639.5 L763.1 639.1 L764.7 639.5Z"/><path d="M720.0 682.2 L716.4 683.4 L713.9 684.3 L709.5 683.4 L707.5 681.6 L709.4 680.3 L714.7 679.7 L717.5 679.4Z"/><path d="M759.1 615.4 L757.3 616.1 L753.6 617.7 L750.8 616.4 L750.0 615.3 L750.1 613.8 L753.8 612.9 L757.2 613.7Z"/><path d="M640.5 494.1 L639.9 495.7 L636.1 495.9 L632.2 495.4 L631.0 494.3 L633.0 493.1 L635.2 492.7 L639.5 492.9Z"/><path d="M744.8 575.5 L744.7 577.5 L741.9 577.9 L738.4 577.3 L738.8 575.8 L739.4 573.6 L741.5 573.1 L743.9 574.1Z"/><path d="M731.2 558.6 L731.2 559.7 L727.0 560.0 L721.5 559.7 L721.6 558.3 L723.8 557.4 L726.8 556.7 L729.0 557.5Z"/><path d="M775.5 625.2 L775.7 626.8 L771.7 627.0 L767.9 626.5 L766.1 625.4 L766.5 624.0 L771.0 623.2 L775.1 623.9Z"/><path d="M520.6 514.3 L520.1 516.0 L516.7 517.0 L512.2 515.7 L510.6 514.2 L513.1 512.8 L517.3 511.4 L519.3 512.1Z"/><path d="M550.8 627.7 L549.5 629.1 L546.7 629.3 L544.8 629.1 L543.3 628.2 L544.3 626.7 L546.6 626.2 L549.0 626.7Z"/><path d="M680.8 542.8 L679.7 544.4 L674.9 545.2 L672.9 544.5 L671.5 542.5 L671.7 541.6 L675.1 540.8 L678.8 541.0ZM672.9 542.9h1.4v4.0h-1.4Z"/><path d="M713.7 524.7 L711.9 525.5 L709.2 526.2 L705.7 525.8 L705.4 524.4 L706.0 522.9 L709.5 521.9 L712.0 522.8ZM710.0 524.3h1.4v4.0h-1.4Z"/><path d="M571.1 652.8 L569.9 653.8 L565.2 654.3 L562.8 653.7 L561.1 652.3 L562.7 651.4 L565.4 650.5 L570.8 651.2Z"/><path d="M712.8 644.4 L711.3 645.8 L709.1 646.8 L705.8 646.1 L703.1 644.3 L704.7 642.1 L709.4 641.7 L711.5 642.1ZM710.3 644.1h1.4v4.6h-1.4Z"/><path d="M771.7 514.9 L769.5 516.1 L767.1 516.5 L764.1 516.1 L763.2 514.3 L764.4 512.7 L767.6 512.4 L769.7 513.0ZM765.3 514.6h1.4v4.4h-1.4Z"/><path d="M748.2 493.0 L746.7 494.2 L744.1 495.3 L739.2 494.6 L737.9 493.0 L740.9 491.1 L744.3 490.4 L747.8 491.4Z"/><path d="M584.6 571.2 L583.7 572.3 L580.6 572.5 L577.4 572.0 L576.6 571.1 L576.9 570.1 L580.3 569.1 L583.4 569.9Z"/><path d="M572.2 558.0 L569.9 559.4 L566.0 560.1 L562.4 559.0 L559.9 558.0 L563.0 557.0 L566.9 556.6 L569.7 556.6ZM567.0 558.1h1.4v3.4h-1.4Z"/><path d="M726.6 517.1 L724.8 518.2 L721.7 519.5 L718.3 518.0 L717.2 517.3 L718.5 515.3 L720.9 514.8 L725.6 515.3Z"/><path d="M701.3 613.4 L701.1 614.2 L698.0 614.6 L694.2 614.4 L691.9 613.5 L694.5 611.9 L697.4 611.7 L700.6 612.4Z"/><path d="M566.9 662.2 L565.6 663.7 L561.5 664.2 L558.9 663.7 L557.7 662.3 L559.0 660.8 L561.4 660.1 L564.9 660.8Z"/><path d="M640.8 532.3 L639.5 534.1 L636.1 534.7 L631.0 533.5 L630.5 531.8 L632.5 530.3 L636.3 529.5 L639.8 530.7Z"/><path d="M501.8 542.8 L501.7 544.2 L498.0 544.8 L494.3 544.3 L491.7 542.4 L493.5 541.4 L497.8 540.7 L501.3 541.5ZM497.7 542.7h1.4v3.6h-1.4Z"/><path d="M674.5 577.0 L673.5 578.4 L669.9 578.6 L665.4 578.0 L663.6 577.0 L665.9 575.3 L668.8 574.8 L672.6 575.7Z"/><path d="M642.6 573.3 L640.4 574.3 L637.9 575.2 L632.8 574.5 L632.4 573.0 L633.3 571.5 L636.5 570.9 L641.1 571.7Z"/><path d="M574.7 479.5 L573.6 480.4 L570.7 480.7 L567.8 480.5 L567.2 479.5 L568.8 478.1 L571.4 477.8 L573.2 478.2Z"/><path d="M752.8 583.4 L751.4 585.2 L747.9 586.0 L745.6 585.4 L743.4 583.2 L746.0 581.9 L748.4 580.9 L752.0 581.3Z"/><path d="M567.6 528.5 L567.1 530.4 L563.5 531.3 L561.8 530.4 L559.1 529.1 L560.7 527.0 L563.0 527.0 L565.8 526.9ZM561.9 528.9h1.4v4.4h-1.4Z"/><path d="M706.8 616.8 L705.6 618.3 L703.1 618.9 L700.7 618.3 L698.7 617.2 L700.2 615.9 L703.3 615.0 L705.4 615.7Z"/><path d="M734.9 597.6 L733.8 599.2 L730.3 599.9 L726.5 599.4 L726.1 597.3 L726.6 596.5 L729.3 595.2 L733.5 596.2ZM731.5 597.6h1.4v4.4h-1.4Z"/><path d="M760.9 613.8 L760.0 615.8 L755.1 616.5 L753.0 615.0 L750.5 614.1 L752.8 612.2 L755.8 611.2 L760.3 611.9ZM758.1 613.9h1.4v4.5h-1.4Z"/><path d="M618.4 602.5 L617.4 603.8 L615.0 604.0 L612.3 603.9 L612.0 602.0 L612.5 600.6 L614.9 599.9 L617.2 600.9ZM615.0 602.1h1.4v4.2h-1.4Z"/><path d="M738.4 520.5 L737.5 522.3 L732.2 523.1 L730.2 522.3 L728.1 520.6 L729.2 519.7 L732.0 518.7 L736.9 519.7ZM734.0 520.8h1.4v4.2h-1.4Z"/><path d="M555.0 600.5 L554.1 602.8 L550.8 603.6 L547.4 602.9 L546.2 600.5 L546.1 599.1 L550.6 598.9 L552.9 599.2ZM551.3 600.9h1.4v4.8h-1.4Z"/><path d="M707.1 599.0 L706.4 600.5 L703.6 600.9 L700.9 601.2 L699.8 599.1 L700.2 597.6 L704.2 597.0 L706.5 597.4Z"/><path d="M674.7 495.1 L673.2 496.7 L670.6 498.1 L667.6 497.2 L666.6 495.3 L667.2 494.1 L670.1 493.6 L672.3 494.0Z"/><path d="M616.3 455.1 L614.7 456.2 L612.6 457.1 L610.6 456.7 L609.5 454.9 L609.7 453.5 L612.2 452.9 L614.8 453.4Z"/><path d="M645.7 442.5 L644.7 444.1 L642.1 444.4 L638.6 443.5 L636.9 442.7 L638.1 441.3 L642.5 441.1 L644.6 441.3Z"/><path d="M745.9 618.0 L742.7 619.2 L738.7 620.0 L735.8 619.1 L733.5 618.0 L736.6 616.6 L740.8 616.0 L744.4 616.9Z"/><path d="M541.2 539.5 L540.2 540.6 L537.8 541.2 L534.7 540.7 L532.1 539.1 L534.1 538.3 L537.7 537.9 L540.6 538.5Z"/><path d="M601.6 504.8 L600.0 506.6 L595.2 507.7 L591.3 506.4 L590.4 505.4 L591.1 503.6 L595.6 502.8 L599.4 503.3Z"/><path d="M559.3 596.0 L558.5 597.3 L555.9 598.0 L554.4 597.2 L552.7 596.3 L553.8 594.6 L556.2 594.1 L558.2 595.0Z"/><path d="M515.5 573.7 L515.2 574.8 L511.8 575.9 L509.6 574.9 L508.5 573.1 L510.4 571.7 L512.6 571.1 L514.2 572.1Z"/><path d="M579.0 591.7 L578.4 593.7 L574.3 594.3 L572.4 593.6 L570.3 592.0 L571.5 590.4 L575.2 590.0 L578.2 590.6Z"/><path d="M509.6 538.0 L509.2 539.9 L506.3 540.5 L504.5 539.9 L503.6 538.0 L503.4 536.9 L506.6 536.4 L509.0 536.2Z"/><path d="M515.4 611.7 L514.4 613.1 L512.9 613.8 L510.5 612.9 L508.7 611.5 L509.9 609.8 L512.0 609.9 L515.1 610.2Z"/><path d="M700.3 451.7 L699.2 453.8 L694.7 453.6 L692.0 453.1 L689.0 451.5 L692.4 449.7 L695.4 449.2 L698.8 449.4Z"/><path d="M602.5 543.7 L601.8 544.9 L597.8 546.0 L595.0 545.2 L594.2 543.9 L595.6 541.8 L597.6 541.3 L602.1 542.2Z"/><path d="M689.5 665.3 L688.1 666.4 L683.9 667.0 L680.1 666.8 L678.4 664.9 L681.1 663.6 L684.5 663.3 L687.3 663.9Z"/><path d="M787.4 512.3 L785.2 513.7 L783.6 514.4 L780.2 514.1 L779.1 512.6 L780.2 511.5 L783.0 510.9 L785.7 511.6Z"/><path d="M749.6 518.4 L747.6 519.8 L745.7 520.5 L743.6 519.8 L742.1 518.8 L743.7 517.4 L746.3 516.8 L747.9 517.7Z"/><path d="M523.5 580.2 L522.5 581.7 L519.8 582.2 L517.7 581.4 L516.7 580.2 L518.5 579.1 L520.5 578.6 L523.2 578.9Z"/><path d="M676.3 641.6 L676.9 643.0 L672.4 643.5 L668.4 643.1 L666.4 642.0 L667.7 640.6 L672.6 640.5 L675.2 640.8Z"/><path d="M518.8 503.2 L517.0 504.5 L514.0 505.0 L510.7 504.3 L509.5 503.4 L510.3 501.5 L512.7 500.6 L517.7 501.8ZM515.0 503.1h1.4v4.2h-1.4Z"/><path d="M735.6 649.3 L735.8 650.9 L730.0 651.4 L727.9 651.0 L725.2 649.8 L727.1 648.0 L730.8 647.8 L734.5 648.4Z"/><path d="M711.8 621.0 L711.3 622.6 L709.2 623.0 L705.3 623.0 L705.3 621.0 L705.7 619.9 L708.3 619.4 L711.8 619.6Z"/><path d="M569.6 624.4 L568.4 626.0 L565.3 626.2 L561.6 625.8 L560.4 624.4 L561.3 623.0 L565.2 622.6 L568.6 623.7Z"/><path d="M559.3 646.0 L557.4 647.3 L554.7 648.2 L553.3 647.1 L552.1 646.2 L552.4 644.5 L555.5 643.9 L557.2 644.6Z"/><path d="M603.0 492.4 L602.1 493.7 L599.8 493.9 L597.2 493.5 L596.4 492.5 L597.4 491.6 L599.3 491.0 L601.2 491.4Z"/><path d="M610.7 549.7 L608.9 551.2 L606.2 551.8 L602.3 551.3 L600.8 549.8 L602.8 548.7 L605.8 548.4 L609.1 548.9Z"/><path d="M734.1 595.5 L733.7 597.8 L730.3 598.4 L726.6 598.1 L724.6 595.9 L725.6 594.1 L728.8 593.8 L733.7 594.1Z"/><path d="M584.5 453.1 L581.7 454.9 L579.0 455.7 L575.7 455.7 L574.8 453.2 L575.7 452.1 L579.2 451.6 L582.0 451.9Z"/><path d="M635.5 591.0 L633.3 591.9 L629.6 593.2 L625.8 592.1 L624.6 590.1 L625.7 589.4 L628.8 587.9 L633.1 589.3ZM627.3 590.5h1.4v4.8h-1.4Z"/><path d="M745.0 671.2 L743.0 672.1 L740.1 672.7 L738.1 671.9 L736.5 670.8 L737.5 669.6 L739.9 668.8 L742.7 669.6Z"/><path d="M763.3 657.3 L761.3 659.6 L758.6 659.5 L753.9 659.1 L751.8 657.3 L753.9 656.1 L758.2 655.4 L761.4 656.0ZM759.3 657.7h1.4v4.2h-1.4Z"/><path d="M725.2 645.5 L723.2 646.6 L721.5 647.2 L718.2 646.7 L716.5 645.7 L717.4 643.9 L720.9 644.0 L724.2 644.4Z"/><path d="M689.3 526.3 L689.0 527.7 L685.6 528.0 L682.2 527.5 L681.2 526.0 L683.6 525.3 L686.1 524.5 L689.3 525.2Z"/><path d="M685.3 658.8 L682.5 660.2 L679.9 661.2 L675.5 660.2 L674.2 659.1 L675.7 657.5 L679.3 656.7 L683.1 657.2Z"/><path d="M558.1 573.0 L556.7 574.2 L553.8 574.7 L551.6 574.1 L550.4 573.3 L551.3 571.8 L554.1 571.5 L557.1 572.1ZM551.6 573.2h1.4v3.2h-1.4Z"/><path d="M733.9 655.1 L732.2 657.2 L729.3 658.1 L724.8 656.9 L723.1 655.0 L723.5 654.0 L727.9 653.3 L732.1 653.6Z"/><path d="M707.0 673.2 L704.9 674.4 L701.9 674.9 L698.2 675.1 L696.1 673.2 L698.9 671.4 L702.6 670.8 L707.0 671.2Z"/><path d="M638.7 439.4 L635.7 440.5 L632.6 441.2 L629.5 440.8 L628.3 439.4 L629.9 438.3 L632.6 437.5 L636.6 438.0Z"/><path d="M805.7 588.3 L804.9 590.2 L802.5 590.3 L800.4 589.9 L799.0 589.0 L799.9 587.5 L802.8 587.1 L805.0 587.6ZM799.9 588.7h1.4v3.4h-1.4Z"/><path d="M688.1 664.3 L686.8 666.5 L684.9 666.5 L681.3 666.0 L681.2 664.2 L681.9 663.3 L685.0 662.7 L686.3 663.1Z"/><path d="M608.0 453.8 L606.0 455.0 L603.7 455.4 L600.6 455.3 L599.2 454.1 L600.7 452.8 L604.1 452.4 L606.7 452.6Z"/><path d="M795.0 616.7 L793.7 617.8 L791.3 618.5 L789.7 618.0 L787.4 616.4 L789.4 615.3 L792.2 615.2 L794.9 615.4ZM788.8 616.7h1.4v3.5h-1.4Z"/><path d="M749.7 593.3 L749.5 594.3 L745.6 595.1 L743.0 594.1 L742.2 593.3 L743.4 592.2 L746.6 591.4 L749.3 592.2Z"/><path d="M760.1 652.4 L759.0 653.9 L754.9 654.2 L751.8 654.0 L750.3 652.2 L752.3 650.8 L755.3 650.6 L758.9 650.9Z"/><path d="M655.7 470.8 L655.6 472.1 L651.3 472.7 L648.7 472.0 L646.9 471.1 L648.8 469.6 L651.2 469.1 L654.1 469.6ZM650.8 470.8h1.4v3.3h-1.4Z"/><path d="M539.4 652.1 L539.4 653.8 L535.2 654.6 L532.5 653.4 L530.9 652.3 L532.1 649.8 L535.5 649.9 L538.1 650.0Z"/><path d="M501.0 585.7 L499.9 586.8 L497.2 587.7 L494.1 587.2 L492.5 585.1 L493.5 583.6 L497.0 583.3 L499.5 583.9ZM494.3 585.3h1.4v4.3h-1.4Z"/><path d="M688.7 496.0 L687.4 497.8 L684.2 498.9 L681.6 498.0 L680.9 496.2 L682.5 494.6 L684.7 494.1 L687.2 494.9Z"/><path d="M768.7 623.5 L767.3 625.0 L765.0 625.3 L762.1 624.8 L761.2 623.6 L762.5 622.7 L764.9 621.7 L767.9 622.8Z"/><path d="M659.0 552.4 L658.3 554.1 L656.2 554.7 L653.5 554.2 L652.0 552.6 L653.4 551.0 L656.0 550.6 L658.5 551.0ZM656.0 552.8h1.4v4.6h-1.4Z"/><path d="M681.3 691.5 L680.4 692.7 L676.5 693.6 L673.7 693.2 L672.4 690.9 L674.3 689.4 L676.8 689.5 L679.7 689.4Z"/><path d="M691.1 640.3 L689.7 642.0 L686.5 642.2 L683.2 641.9 L681.6 640.3 L684.0 638.8 L686.6 638.0 L689.6 638.1ZM686.9 640.2h1.4v4.5h-1.4Z"/><path d="M550.2 569.7 L549.3 571.2 L545.9 571.3 L542.4 570.6 L540.3 569.6 L542.9 568.4 L545.8 567.9 L550.2 568.2Z"/><path d="M599.5 686.0 L598.2 687.1 L594.2 687.7 L591.7 687.3 L589.7 686.0 L591.3 684.7 L594.4 684.1 L598.2 684.7ZM595.9 685.9h1.4v3.6h-1.4Z"/><path d="M668.8 521.0 L668.0 522.8 L665.1 523.7 L662.1 522.7 L660.8 521.0 L662.0 519.4 L665.4 518.7 L667.3 518.9ZM662.1 521.1h1.4v4.4h-1.4Z"/><path d="M754.4 505.3 L753.0 506.2 L751.2 506.8 L748.5 506.6 L747.2 505.0 L748.6 503.8 L751.2 503.4 L752.6 504.0Z"/><path d="M649.1 485.0 L647.8 486.5 L645.1 487.6 L641.6 486.6 L640.1 485.1 L641.3 483.1 L644.2 482.5 L647.6 483.6ZM641.9 485.3h1.4v4.6h-1.4Z"/><path d="M698.9 459.4 L698.8 460.6 L696.0 460.9 L693.0 460.7 L692.7 459.3 L693.5 458.1 L696.4 457.5 L698.3 457.9ZM693.9 459.4h1.4v3.3h-1.4Z"/><path d="M656.7 481.4 L655.6 482.8 L652.5 483.2 L649.3 482.4 L647.6 481.4 L649.6 479.5 L652.0 479.2 L655.3 479.7Z"/><path d="M498.1 560.2 L497.1 561.2 L493.9 561.8 L490.9 561.2 L489.6 559.9 L490.5 559.1 L493.7 558.5 L497.7 559.1Z"/><path d="M544.1 599.2 L543.7 601.2 L541.4 601.0 L538.4 600.7 L537.5 599.8 L538.7 598.5 L541.7 597.5 L543.5 598.0Z"/><path d="M686.4 571.5 L685.2 572.9 L682.5 573.4 L680.1 572.8 L679.1 571.5 L680.2 570.1 L683.3 569.9 L685.6 570.6ZM680.5 571.7h1.4v3.3h-1.4Z"/><path d="M705.4 498.1 L704.2 499.3 L700.5 500.4 L698.1 499.5 L696.4 498.1 L697.5 496.3 L701.4 495.7 L705.1 496.4Z"/><path d="M637.2 605.2 L635.8 606.9 L633.9 607.4 L629.9 607.3 L628.6 605.7 L630.7 603.1 L632.9 603.3 L635.8 604.1ZM634.3 605.3h1.4v4.6h-1.4Z"/><path d="M709.2 651.1 L708.7 652.3 L704.3 652.7 L701.5 652.1 L700.6 651.3 L701.2 649.8 L705.3 649.4 L709.5 650.0Z"/><path d="M772.6 479.9 L770.1 481.1 L767.3 481.9 L765.4 481.7 L763.6 479.7 L765.6 478.4 L768.0 477.7 L770.7 478.2ZM766.3 479.8h1.4v4.1h-1.4Z"/><path d="M662.4 628.3 L661.7 630.0 L658.3 631.0 L654.9 630.4 L654.3 628.0 L655.7 626.5 L657.8 625.8 L660.6 626.4ZM656.8 628.2h1.4v4.8h-1.4Z"/><path d="M608.3 621.8 L606.8 623.8 L603.1 623.8 L601.2 622.9 L599.9 621.6 L601.5 619.9 L604.2 619.3 L606.7 619.6Z"/><path d="M696.4 471.4 L694.5 472.8 L692.2 473.0 L688.1 472.3 L687.0 471.5 L688.2 469.7 L691.1 469.6 L695.5 470.1Z"/><path d="M708.1 456.5 L707.3 457.6 L705.8 458.3 L702.9 457.6 L701.5 456.9 L702.8 455.7 L705.1 454.9 L707.8 455.5Z"/><path d="M614.6 439.6 L614.0 440.8 L610.8 441.0 L605.3 440.7 L605.1 439.0 L606.8 437.8 L610.2 437.6 L614.0 438.1Z"/><path d="M532.0 635.2 L530.8 636.1 L528.4 636.5 L524.8 636.8 L523.3 634.7 L525.1 633.4 L527.9 633.4 L530.8 633.5Z"/><path d="M702.9 523.3 L701.0 524.4 L698.8 525.3 L695.4 524.7 L693.4 523.0 L694.9 521.8 L699.1 521.6 L701.8 521.9ZM697.4 523.3h1.4v3.5h-1.4Z"/><path d="M583.1 580.1 L582.1 581.6 L576.9 582.6 L574.3 581.8 L573.5 580.2 L573.5 578.4 L577.8 578.1 L581.9 578.3Z"/><path d="M553.3 567.1 L552.3 568.1 L549.2 569.1 L546.3 568.8 L545.3 567.3 L546.9 565.7 L549.4 565.3 L552.6 566.2ZM549.9 567.2h1.4v3.4h-1.4Z"/><path d="M732.2 591.4 L730.8 593.5 L728.9 593.9 L726.0 593.0 L725.0 592.1 L726.1 589.8 L728.0 589.8 L731.5 590.1Z"/><path d="M561.2 631.6 L559.7 632.6 L557.0 633.7 L555.6 632.9 L553.6 631.4 L555.4 630.2 L556.8 629.8 L560.1 630.4Z"/><path d="M655.6 691.9 L654.3 693.5 L651.3 694.1 L647.6 692.9 L646.5 692.2 L647.5 690.0 L651.0 689.6 L653.8 690.7Z"/><path d="M634.5 489.7 L633.0 490.6 L630.1 491.6 L627.1 490.8 L627.0 489.8 L628.0 488.2 L631.0 487.8 L632.7 487.9ZM627.9 489.5h1.4v3.8h-1.4Z"/><path d="M688.1 592.8 L686.6 593.8 L684.2 594.4 L680.4 594.1 L679.4 592.7 L680.8 591.6 L683.9 591.3 L687.1 591.5Z"/><path d="M664.8 674.5 L662.9 676.1 L660.3 676.6 L655.8 676.1 L653.7 674.2 L656.1 673.0 L659.4 672.6 L663.4 672.4ZM656.1 674.6h1.4v4.6h-1.4Z"/><path d="M805.9 533.5 L805.5 534.6 L802.8 535.5 L798.2 534.8 L797.6 533.4 L797.2 531.8 L802.8 530.8 L804.8 531.9Z"/><path d="M656.3 639.9 L656.0 641.3 L652.7 642.6 L649.3 642.1 L648.3 640.4 L649.8 638.6 L652.4 637.9 L655.2 638.7ZM652.5 640.1h1.4v4.2h-1.4Z"/><path d="M614.4 591.8 L612.6 593.3 L610.1 593.5 L606.7 593.2 L605.2 592.1 L605.9 590.6 L608.9 590.1 L613.1 590.4ZM610.7 591.8h1.4v3.3h-1.4Z"/></g>
<g clip-path="url(#dclip)" fill="#4d7542" opacity="0.45"><path d="M998.9 238.6 L997.4 240.4 L995.1 241.2 L991.6 240.1 L990.5 239.3 L992.2 237.6 L994.0 236.8 L996.4 237.6Z"/><path d="M1144.2 312.4 L1142.4 313.9 L1138.7 314.1 L1136.0 313.7 L1133.5 312.8 L1133.9 311.3 L1139.6 311.0 L1143.3 311.4ZM1137.4 312.5h1.4v3.5h-1.4Z"/><path d="M967.5 254.5 L966.4 256.0 L963.5 256.9 L961.5 256.3 L960.5 255.0 L962.2 253.5 L964.5 253.1 L966.2 253.4ZM964.3 254.9h1.4v3.6h-1.4Z"/><path d="M932.1 277.1 L930.2 278.5 L926.1 279.2 L922.6 278.3 L921.4 276.7 L923.9 275.1 L926.0 274.6 L930.2 274.9Z"/><path d="M1058.1 264.6 L1055.3 266.4 L1052.8 267.1 L1049.4 266.3 L1047.3 265.0 L1050.2 263.4 L1053.6 262.8 L1057.5 263.5ZM1050.8 265.0h1.4v4.0h-1.4Z"/><path d="M926.0 313.9 L923.4 315.4 L918.9 316.1 L916.2 315.7 L914.3 314.1 L916.7 312.7 L919.4 311.9 L924.8 312.6ZM919.9 314.0h1.4v3.6h-1.4Z"/><path d="M1093.1 251.3 L1091.8 252.5 L1090.2 253.4 L1087.2 252.4 L1085.5 251.5 L1087.0 250.3 L1089.9 250.0 L1092.7 250.3Z"/><path d="M963.6 275.7 L960.7 277.2 L958.7 277.7 L953.6 277.1 L953.5 276.0 L953.6 275.0 L958.4 274.6 L960.9 274.8Z"/><path d="M958.2 239.2 L956.4 240.3 L954.5 240.8 L951.8 240.1 L950.7 238.6 L953.0 237.2 L954.6 236.9 L956.9 237.4Z"/><path d="M935.2 279.5 L934.3 280.8 L932.3 281.3 L930.2 281.1 L928.8 279.3 L930.5 277.5 L932.2 277.3 L934.8 277.9ZM930.5 279.3h1.4v4.5h-1.4Z"/><path d="M989.1 316.0 L987.9 317.5 L984.4 318.0 L982.0 317.6 L980.7 316.2 L981.2 314.5 L984.0 313.9 L987.1 314.4Z"/><path d="M1079.7 321.8 L1078.6 323.6 L1075.7 323.4 L1074.3 323.4 L1073.3 322.0 L1073.9 321.0 L1076.6 320.4 L1078.2 320.8Z"/><path d="M882.7 270.4 L881.0 271.3 L877.9 272.1 L876.2 271.1 L875.0 270.3 L875.7 268.5 L879.5 268.0 L881.5 268.3Z"/><path d="M1098.3 295.6 L1097.0 297.6 L1094.7 298.7 L1092.2 297.2 L1091.9 295.5 L1092.4 294.3 L1094.2 293.4 L1096.9 293.4Z"/><path d="M1008.1 226.0 L1007.7 227.8 L1005.4 228.4 L1001.8 227.9 L1000.3 226.3 L1001.6 224.5 L1004.1 223.5 L1007.3 224.7Z"/><path d="M966.9 310.6 L965.7 312.6 L961.7 312.5 L958.5 312.3 L958.4 310.9 L959.2 308.8 L962.8 308.7 L966.2 309.0ZM962.9 310.7h1.4v4.2h-1.4Z"/><path d="M1088.1 273.0 L1087.0 274.1 L1083.3 275.1 L1078.1 274.1 L1076.9 272.3 L1079.5 270.8 L1082.4 270.6 L1086.6 271.4Z"/><path d="M972.2 247.1 L970.5 248.8 L968.6 249.0 L965.5 248.7 L964.8 247.2 L965.3 245.6 L967.7 245.4 L970.7 246.0Z"/><path d="M994.1 253.4 L992.7 254.6 L989.0 255.1 L985.9 254.6 L983.5 253.3 L985.7 252.4 L988.7 251.4 L991.5 252.2Z"/><path d="M923.5 231.2 L922.5 232.7 L919.4 232.8 L917.1 232.8 L916.3 230.4 L917.7 229.3 L919.3 228.8 L922.1 229.0Z"/><path d="M1059.7 324.4 L1058.5 326.1 L1056.3 326.3 L1054.2 326.2 L1053.1 324.8 L1054.3 323.3 L1056.1 323.0 L1059.2 323.7ZM1057.7 324.7h1.4v3.5h-1.4Z"/><path d="M1046.9 299.7 L1045.9 301.0 L1042.6 301.6 L1040.3 301.5 L1038.2 299.3 L1039.8 298.0 L1042.4 297.6 L1045.4 297.9ZM1040.4 299.8h1.4v4.3h-1.4Z"/><path d="M885.2 258.8 L884.5 260.8 L880.9 260.6 L878.5 260.7 L877.8 259.4 L878.1 257.5 L882.4 257.0 L884.6 257.6Z"/><path d="M1107.8 310.3 L1104.9 311.5 L1102.3 312.6 L1098.5 311.6 L1096.9 309.9 L1098.1 308.9 L1102.8 308.6 L1106.1 309.1Z"/><path d="M950.0 244.4 L948.0 245.5 L944.7 246.9 L940.2 246.0 L939.7 243.9 L941.1 242.2 L944.5 241.7 L948.8 242.6ZM941.4 244.2h1.4v4.6h-1.4Z"/><path d="M1086.4 313.8 L1086.3 315.2 L1083.1 315.7 L1080.6 314.9 L1079.0 313.3 L1080.0 312.1 L1083.3 310.9 L1085.7 312.0ZM1083.9 313.6h1.4v4.7h-1.4Z"/><path d="M953.7 324.2 L951.9 326.6 L950.0 327.1 L948.0 326.9 L946.4 324.7 L947.8 323.5 L949.7 322.0 L951.7 323.0Z"/><path d="M977.9 317.4 L976.5 318.7 L973.9 319.0 L969.5 318.5 L967.4 317.1 L969.1 315.9 L973.7 315.2 L975.8 315.9ZM974.8 317.2h1.4v3.6h-1.4Z"/><path d="M979.2 320.9 L977.7 322.9 L973.2 323.4 L968.9 322.6 L967.6 321.3 L968.9 319.3 L973.7 319.0 L976.5 319.5Z"/><path d="M1014.1 271.5 L1012.9 272.5 L1009.6 273.4 L1004.9 272.9 L1003.3 270.7 L1004.9 269.9 L1009.1 268.8 L1012.4 269.5Z"/><path d="M1076.6 287.5 L1075.8 289.3 L1072.5 290.0 L1070.7 289.2 L1069.6 288.1 L1070.6 286.5 L1073.3 285.9 L1075.9 286.5Z"/><path d="M851.8 273.0 L849.9 274.6 L847.9 275.2 L845.0 274.2 L844.1 272.5 L844.4 271.6 L848.4 270.5 L850.9 271.5Z"/><path d="M945.1 238.2 L942.7 240.0 L939.9 240.5 L936.1 239.7 L935.1 238.5 L937.4 236.4 L940.4 235.8 L943.3 236.6Z"/><path d="M1010.1 263.6 L1009.2 265.4 L1005.8 266.0 L1002.4 265.5 L999.7 263.9 L1001.8 262.2 L1005.7 261.8 L1008.8 262.2ZM1005.9 263.9h1.4v4.4h-1.4Z"/><path d="M921.9 233.8 L920.3 235.5 L917.0 236.1 L913.1 235.4 L911.8 233.9 L913.5 232.7 L916.4 232.5 L920.5 232.6ZM918.7 234.1h1.4v3.8h-1.4Z"/><path d="M943.4 275.7 L942.3 277.8 L939.8 278.1 L936.1 277.4 L935.6 275.9 L937.4 274.2 L939.8 273.9 L942.4 274.3Z"/><path d="M994.1 316.7 L993.5 317.3 L991.2 318.2 L988.9 317.6 L987.7 316.3 L988.4 315.2 L991.1 314.4 L993.5 315.2ZM991.9 316.3h1.4v3.6h-1.4Z"/><path d="M885.3 254.0 L883.8 255.6 L880.4 256.0 L878.1 255.5 L876.0 254.2 L877.6 252.4 L879.9 252.3 L883.6 253.0Z"/><path d="M1013.9 320.0 L1012.8 321.4 L1009.8 321.8 L1007.5 321.1 L1006.2 320.2 L1007.7 318.0 L1009.7 317.7 L1012.0 318.2Z"/><path d="M1018.6 263.6 L1016.9 264.6 L1014.3 265.3 L1010.7 264.9 L1008.5 263.2 L1010.6 262.2 L1013.9 261.8 L1016.6 262.3Z"/><path d="M1046.5 263.1 L1046.6 264.7 L1041.4 265.2 L1038.0 264.4 L1036.3 263.6 L1037.6 261.9 L1041.4 261.2 L1046.3 262.0Z"/><path d="M917.8 284.3 L917.4 285.5 L912.5 285.8 L908.1 285.6 L908.4 284.6 L908.6 283.0 L912.9 282.7 L916.6 283.1Z"/><path d="M1049.9 305.8 L1048.6 307.0 L1044.7 308.1 L1043.1 307.6 L1041.1 305.6 L1041.8 303.7 L1045.5 302.8 L1048.7 303.4Z"/><path d="M1032.7 269.4 L1031.1 270.8 L1027.7 271.4 L1024.6 271.1 L1021.9 269.8 L1022.5 268.0 L1027.2 267.5 L1031.2 268.0Z"/><path d="M948.1 326.1 L947.3 327.0 L944.8 327.5 L942.4 327.2 L940.8 325.7 L942.0 324.8 L944.7 323.9 L947.3 324.5Z"/><path d="M986.5 266.1 L984.2 267.7 L980.1 268.0 L977.4 267.4 L974.3 265.9 L976.3 264.1 L980.9 264.3 L984.6 264.2ZM982.0 266.1h1.4v4.2h-1.4Z"/><path d="M1117.1 236.2 L1116.4 237.6 L1113.5 238.4 L1112.1 237.9 L1109.9 236.6 L1111.7 234.1 L1113.2 233.5 L1116.6 234.2Z"/><path d="M1035.9 232.1 L1034.4 234.3 L1032.8 234.8 L1029.5 234.3 L1028.0 232.6 L1030.2 230.8 L1032.3 230.2 L1034.9 230.3Z"/><path d="M1055.1 226.2 L1053.9 227.9 L1050.5 228.3 L1046.7 228.3 L1044.5 225.9 L1047.1 224.1 L1050.5 223.7 L1054.4 224.4Z"/><path d="M943.1 263.1 L942.7 264.3 L939.9 264.6 L938.0 264.0 L937.1 263.1 L937.6 262.2 L940.2 261.9 L942.5 261.8Z"/><path d="M1109.7 258.7 L1107.9 259.9 L1103.9 260.6 L1101.1 259.9 L1099.8 258.9 L1101.8 257.4 L1105.4 257.2 L1108.4 257.5Z"/><path d="M1006.1 306.2 L1005.2 307.7 L1002.9 308.3 L1000.9 307.2 L999.3 305.8 L1000.3 304.5 L1003.3 304.1 L1005.5 304.6Z"/><path d="M1084.8 285.5 L1082.7 287.1 L1080.0 287.4 L1077.6 286.4 L1076.0 285.8 L1077.1 284.5 L1080.2 283.5 L1083.0 284.5ZM1079.6 285.5h1.4v3.4h-1.4Z"/><path d="M1035.0 273.1 L1032.9 274.2 L1030.5 275.1 L1026.3 274.2 L1025.5 273.3 L1026.7 271.6 L1030.8 271.3 L1032.8 272.3Z"/><path d="M901.3 304.8 L899.7 305.9 L897.3 306.4 L895.5 306.0 L893.1 304.9 L894.6 303.2 L897.1 303.3 L900.1 303.6ZM898.0 304.7h1.4v3.2h-1.4Z"/><path d="M845.4 281.2 L844.1 283.0 L842.0 283.6 L839.9 282.6 L838.0 281.2 L839.6 279.8 L842.2 279.5 L845.1 280.1Z"/><path d="M1030.8 325.4 L1029.0 327.1 L1025.6 328.0 L1021.8 327.2 L1021.1 325.8 L1022.8 323.8 L1024.9 322.7 L1029.6 324.0Z"/><path d="M872.3 256.2 L870.9 257.2 L869.2 258.2 L865.9 257.3 L864.7 256.3 L866.0 255.2 L868.9 254.3 L872.0 254.9Z"/><path d="M1029.5 279.2 L1027.9 281.2 L1025.8 281.7 L1022.0 281.2 L1020.4 279.8 L1020.9 278.3 L1025.3 277.3 L1027.6 278.4ZM1021.9 279.6h1.4v3.8h-1.4Z"/><path d="M887.7 239.6 L887.1 240.8 L884.5 241.1 L881.8 240.8 L880.1 239.1 L880.9 238.2 L884.0 237.6 L887.2 238.1Z"/><path d="M1124.5 297.9 L1121.8 299.2 L1118.4 299.7 L1115.0 299.8 L1113.1 298.4 L1114.4 296.9 L1118.5 296.4 L1123.0 296.9ZM1119.0 298.2h1.4v3.5h-1.4Z"/><path d="M901.4 247.3 L900.2 248.5 L897.5 249.5 L893.7 248.7 L892.6 247.7 L892.9 246.3 L896.5 245.9 L900.4 245.9Z"/><path d="M943.8 255.5 L943.7 256.8 L940.8 257.7 L938.5 256.9 L936.1 255.9 L938.3 254.2 L940.2 253.3 L943.2 253.6ZM939.9 255.5h1.4v4.1h-1.4Z"/><path d="M1043.7 240.5 L1042.6 242.1 L1036.9 243.1 L1035.1 242.3 L1031.5 240.6 L1032.8 239.3 L1038.3 239.1 L1041.3 239.8Z"/><path d="M915.7 243.7 L914.6 244.6 L911.2 245.1 L908.5 244.7 L907.6 243.3 L908.0 242.3 L912.1 241.7 L915.5 242.5Z"/><path d="M901.7 261.1 L899.7 262.2 L896.8 262.7 L892.6 261.8 L891.3 260.7 L893.3 259.7 L895.7 258.8 L900.3 259.3ZM893.9 260.7h1.4v3.6h-1.4Z"/><path d="M987.6 238.1 L987.3 239.2 L984.3 239.8 L981.4 239.4 L979.9 237.5 L982.2 236.7 L984.4 236.1 L986.4 236.6Z"/><path d="M1069.9 250.9 L1069.2 252.7 L1065.5 253.4 L1063.7 252.9 L1062.5 251.3 L1063.8 249.2 L1065.4 248.5 L1068.5 249.6Z"/><path d="M1027.4 224.2 L1025.6 225.7 L1023.5 225.9 L1020.6 225.4 L1018.3 224.4 L1020.1 223.3 L1022.3 222.5 L1025.9 223.1Z"/><path d="M1176.2 283.1 L1176.3 284.6 L1173.4 285.0 L1170.9 284.1 L1169.8 283.2 L1171.3 280.7 L1172.9 280.9 L1175.6 280.9Z"/><path d="M884.1 296.8 L883.7 297.8 L879.6 298.3 L876.9 297.9 L874.4 296.8 L876.6 295.2 L880.1 294.6 L883.8 295.5Z"/><path d="M996.3 243.2 L996.1 244.6 L992.4 245.3 L991.0 244.8 L990.0 243.5 L991.0 242.1 L993.5 241.7 L996.0 242.1Z"/><path d="M926.8 296.0 L926.8 297.8 L922.7 298.9 L919.2 298.3 L917.5 296.5 L918.4 294.2 L921.7 293.7 L924.9 294.6Z"/><path d="M1150.5 244.9 L1149.8 246.1 L1146.2 247.0 L1142.6 246.0 L1140.4 244.1 L1141.6 243.0 L1146.6 242.4 L1149.4 242.8Z"/><path d="M978.4 263.0 L977.6 264.5 L974.9 265.6 L971.6 264.4 L971.1 263.5 L971.0 261.5 L974.7 261.4 L976.4 261.3Z"/><path d="M1035.0 316.9 L1033.2 317.6 L1030.5 318.1 L1026.6 317.9 L1025.3 316.7 L1026.5 315.7 L1030.8 314.9 L1033.1 315.5Z"/><path d="M1011.3 272.0 L1010.6 273.1 L1007.3 273.9 L1004.8 273.3 L1003.2 272.1 L1003.4 269.9 L1007.4 269.9 L1010.8 270.4ZM1008.1 271.8h1.4v4.2h-1.4Z"/><path d="M933.7 254.8 L932.6 255.9 L930.7 256.2 L928.2 255.7 L927.7 254.5 L928.3 253.4 L930.4 252.6 L933.5 253.3Z"/><path d="M997.4 253.1 L996.5 254.7 L992.3 254.7 L988.6 254.3 L988.0 253.2 L989.9 251.9 L994.1 251.2 L996.6 251.9Z"/><path d="M982.0 261.8 L980.8 263.3 L978.6 263.8 L974.5 263.2 L974.3 261.4 L975.1 259.5 L978.0 259.1 L980.0 260.1ZM977.3 261.7h1.4v4.3h-1.4Z"/><path d="M1151.7 259.3 L1150.3 261.6 L1146.6 262.3 L1144.4 261.1 L1141.1 259.2 L1143.1 257.9 L1146.1 256.9 L1152.0 257.7Z"/><path d="M968.2 239.8 L966.7 241.1 L964.1 242.0 L960.1 241.8 L959.7 240.0 L960.4 237.6 L963.2 237.6 L966.2 238.3ZM963.2 239.8h1.4v4.7h-1.4Z"/><path d="M930.0 246.1 L928.3 247.9 L923.8 247.8 L921.4 247.2 L920.0 246.4 L921.0 245.0 L924.0 243.8 L928.6 244.8Z"/><path d="M1100.6 287.3 L1098.9 289.0 L1097.5 289.6 L1094.9 288.8 L1093.8 287.6 L1095.6 286.1 L1097.8 285.5 L1099.9 286.4Z"/><path d="M1067.9 257.3 L1066.0 258.9 L1062.4 259.6 L1060.8 259.3 L1059.3 257.3 L1060.5 255.8 L1064.0 254.7 L1066.1 255.3Z"/><path d="M978.5 313.2 L977.6 314.5 L973.0 315.6 L971.7 314.8 L969.4 313.4 L971.2 310.7 L974.2 310.4 L977.2 311.3Z"/><path d="M899.1 273.6 L897.8 274.6 L893.2 275.5 L889.5 274.6 L889.0 273.5 L890.1 272.4 L893.3 271.7 L896.9 272.4Z"/><path d="M1088.1 315.8 L1087.4 317.1 L1083.9 317.9 L1080.0 317.8 L1078.1 316.1 L1080.1 314.5 L1083.5 314.0 L1087.1 314.7ZM1082.1 316.0h1.4v4.4h-1.4Z"/><path d="M921.2 247.2 L918.0 248.4 L913.5 249.4 L911.1 249.0 L909.8 246.8 L911.1 245.5 L915.3 244.9 L918.4 244.9Z"/><path d="M902.9 300.1 L902.0 302.1 L900.6 302.6 L896.9 301.8 L896.8 299.9 L897.5 298.9 L900.4 297.6 L902.6 298.6Z"/><path d="M1022.6 269.8 L1021.1 271.8 L1019.7 272.7 L1016.8 272.0 L1015.1 270.6 L1016.3 268.8 L1018.5 267.4 L1021.7 268.1ZM1018.8 270.1h1.4v4.9h-1.4Z"/><path d="M960.8 324.6 L960.4 325.7 L958.0 326.0 L955.6 325.4 L954.4 324.7 L955.3 323.2 L958.1 322.5 L960.6 323.0Z"/><path d="M1166.0 283.7 L1163.4 285.4 L1160.1 286.2 L1156.7 285.3 L1155.0 284.1 L1157.5 282.2 L1160.5 282.0 L1164.9 282.5Z"/><path d="M1085.7 284.0 L1083.7 285.4 L1082.1 285.7 L1077.8 285.3 L1077.8 284.2 L1078.4 282.6 L1081.9 282.2 L1084.3 283.1Z"/><path d="M1144.1 239.0 L1141.8 240.2 L1138.9 241.2 L1136.7 240.7 L1134.9 238.1 L1137.6 236.7 L1139.0 235.6 L1142.0 236.5Z"/><path d="M1129.9 265.8 L1128.5 266.7 L1126.2 267.7 L1122.7 266.6 L1121.3 265.1 L1122.7 263.7 L1125.5 263.5 L1128.8 263.7Z"/><path d="M1178.9 294.0 L1176.4 295.8 L1175.2 296.1 L1172.0 295.7 L1171.3 294.0 L1172.6 292.6 L1174.2 291.5 L1176.6 292.5Z"/><path d="M1146.6 301.8 L1144.9 302.9 L1143.2 303.2 L1141.2 302.7 L1139.7 301.8 L1141.3 300.1 L1143.7 300.1 L1145.8 300.6Z"/><path d="M1049.7 270.8 L1047.5 272.7 L1045.5 272.9 L1041.6 272.4 L1041.3 270.3 L1040.9 269.1 L1045.6 268.5 L1047.7 269.1Z"/><path d="M1064.4 299.3 L1062.1 300.9 L1058.1 301.5 L1055.8 301.0 L1053.9 299.6 L1056.2 298.0 L1059.3 297.2 L1062.7 297.8Z"/><path d="M898.4 248.6 L896.0 250.5 L892.6 250.8 L889.4 250.0 L887.9 248.3 L887.9 246.9 L891.9 246.0 L895.0 247.0Z"/><path d="M1064.9 310.6 L1063.0 312.3 L1058.9 312.9 L1054.8 313.2 L1053.8 310.6 L1055.5 308.8 L1057.7 308.6 L1061.7 309.3Z"/><path d="M914.1 259.7 L913.9 260.9 L912.0 262.1 L909.4 261.3 L907.8 260.2 L909.2 258.9 L911.2 257.6 L914.0 258.8Z"/><path d="M1104.2 247.6 L1102.6 248.7 L1099.3 249.2 L1096.9 248.8 L1094.4 247.4 L1095.6 246.2 L1099.0 246.0 L1103.3 246.1Z"/><path d="M1002.4 289.6 L1001.1 291.1 L997.8 291.9 L995.4 290.9 L994.6 289.2 L995.8 287.9 L998.0 286.6 L1000.1 287.6Z"/><path d="M1070.5 298.8 L1069.3 300.2 L1067.2 300.9 L1062.3 300.0 L1061.2 298.4 L1062.2 297.4 L1067.3 296.3 L1069.9 296.7Z"/><path d="M1044.5 273.5 L1043.0 274.8 L1040.8 275.3 L1037.6 274.8 L1035.7 273.6 L1036.5 272.0 L1041.4 271.2 L1043.7 272.2Z"/><path d="M1115.6 243.5 L1114.7 244.4 L1110.5 244.9 L1107.9 244.3 L1107.5 243.7 L1108.7 242.3 L1111.6 241.8 L1113.8 241.9Z"/><path d="M947.4 272.3 L946.4 274.2 L943.4 275.0 L940.3 274.1 L940.0 272.8 L940.2 270.7 L944.6 270.6 L946.9 271.2Z"/><path d="M975.8 272.4 L974.4 274.2 L972.5 275.1 L969.3 274.1 L968.2 273.0 L969.0 271.2 L972.7 270.1 L974.1 270.6Z"/><path d="M1116.7 286.2 L1115.2 287.6 L1113.5 288.5 L1109.9 287.7 L1110.1 285.8 L1110.7 284.6 L1113.2 284.2 L1116.0 284.2Z"/><path d="M1023.4 325.4 L1020.9 326.3 L1017.8 327.2 L1012.8 326.5 L1010.6 325.3 L1013.0 324.2 L1016.8 323.8 L1021.7 324.4Z"/><path d="M874.0 292.9 L873.2 294.3 L870.9 294.9 L868.6 294.9 L867.1 293.5 L868.7 291.9 L871.2 291.2 L872.7 291.9ZM871.7 293.1h1.4v4.0h-1.4Z"/><path d="M1015.2 269.2 L1012.9 270.6 L1009.4 271.0 L1006.5 270.8 L1005.8 269.2 L1007.7 268.2 L1009.6 267.8 L1013.4 268.3Z"/><path d="M1112.0 248.5 L1111.3 249.7 L1108.6 250.4 L1105.0 249.3 L1103.3 247.8 L1105.3 246.7 L1107.5 245.9 L1111.4 246.9ZM1109.0 248.2h1.4v4.4h-1.4Z"/><path d="M910.9 455.0 L909.7 456.7 L905.1 457.5 L902.4 456.3 L900.4 455.4 L901.9 453.4 L905.6 453.5 L908.1 453.8Z"/><path d="M964.2 395.1 L961.4 396.4 L957.3 396.9 L954.2 396.3 L952.0 395.1 L953.8 394.3 L958.5 393.3 L961.8 394.2ZM957.9 395.3h1.4v3.3h-1.4Z"/><path d="M913.9 430.8 L912.6 432.4 L908.6 432.9 L903.8 432.5 L903.4 430.7 L904.2 429.8 L908.1 429.1 L911.8 430.0Z"/><path d="M1119.5 437.9 L1119.0 438.9 L1115.9 439.9 L1113.8 439.0 L1113.0 437.9 L1114.1 436.3 L1116.7 436.2 L1118.3 436.6Z"/><path d="M1077.0 453.7 L1076.4 455.1 L1072.2 455.4 L1070.2 455.5 L1068.5 454.2 L1069.9 452.7 L1072.8 452.5 L1076.1 452.7ZM1071.0 453.9h1.4v3.4h-1.4Z"/><path d="M1125.5 414.0 L1123.8 414.7 L1122.0 415.4 L1118.6 415.5 L1118.3 413.2 L1118.7 411.8 L1121.0 411.5 L1123.4 411.7ZM1122.5 413.4h1.4v4.6h-1.4Z"/><path d="M1167.7 445.1 L1166.5 446.9 L1164.1 447.0 L1160.4 445.9 L1159.5 444.4 L1161.3 443.5 L1163.5 442.6 L1166.8 442.9Z"/><path d="M1039.6 480.0 L1038.0 481.1 L1035.1 482.0 L1032.4 481.4 L1031.8 479.5 L1032.6 478.5 L1035.2 477.7 L1038.1 478.6Z"/><path d="M1101.8 423.4 L1100.3 424.6 L1098.9 425.1 L1096.5 424.5 L1095.2 423.5 L1096.5 421.9 L1099.3 421.4 L1100.8 422.0ZM1096.4 423.3h1.4v3.6h-1.4Z"/><path d="M1011.0 451.5 L1009.3 453.1 L1004.5 453.4 L1001.8 453.4 L1000.1 452.0 L1000.8 450.9 L1005.1 450.4 L1008.8 450.4Z"/><path d="M958.9 427.1 L957.3 428.2 L954.1 429.2 L951.3 428.8 L950.7 427.2 L952.1 425.8 L954.5 424.9 L956.8 425.5Z"/><path d="M969.0 495.9 L967.5 497.1 L965.3 497.6 L962.5 497.0 L961.6 495.3 L962.6 494.1 L966.0 493.2 L967.7 493.8ZM966.6 495.5h1.4v4.1h-1.4Z"/><path d="M1066.0 419.1 L1064.1 420.8 L1060.5 420.9 L1058.0 420.2 L1055.6 419.4 L1057.9 417.2 L1060.2 417.0 L1063.5 417.6Z"/><path d="M1107.6 471.9 L1105.6 472.9 L1102.3 473.5 L1099.6 473.2 L1098.2 472.2 L1099.0 470.9 L1101.7 470.5 L1105.0 470.9ZM1099.2 472.0h1.4v3.4h-1.4Z"/><path d="M1094.6 405.1 L1091.9 406.0 L1090.0 406.4 L1086.6 405.8 L1084.8 404.7 L1087.0 403.6 L1089.4 403.3 L1092.8 403.8Z"/><path d="M998.4 487.0 L996.5 488.3 L994.4 488.9 L991.4 488.1 L990.3 487.0 L991.0 485.9 L993.3 484.9 L997.3 485.3Z"/><path d="M1154.0 458.6 L1153.4 459.8 L1149.1 460.9 L1146.0 459.8 L1145.2 458.8 L1145.7 457.2 L1150.2 456.6 L1153.1 456.8Z"/><path d="M884.3 467.4 L883.9 468.2 L881.0 468.8 L877.2 468.6 L876.5 467.1 L877.6 465.6 L881.1 465.8 L884.2 466.0Z"/><path d="M1089.1 466.3 L1088.1 467.6 L1086.2 468.6 L1084.0 467.7 L1081.9 465.9 L1084.0 464.4 L1085.6 463.9 L1089.2 464.5ZM1085.0 466.1h1.4v4.8h-1.4Z"/><path d="M1077.2 461.5 L1077.1 463.0 L1074.3 464.1 L1071.3 463.0 L1069.0 461.6 L1070.9 460.1 L1074.4 459.5 L1077.6 460.3ZM1072.6 461.7h1.4v4.1h-1.4Z"/><path d="M924.9 462.9 L924.3 464.7 L921.5 464.8 L918.1 464.5 L916.6 463.0 L918.7 461.2 L921.5 460.7 L924.3 461.6ZM919.8 463.0h1.4v4.0h-1.4Z"/><path d="M974.9 421.0 L974.1 422.7 L970.6 423.4 L968.3 422.2 L966.5 421.2 L968.3 420.4 L970.3 419.8 L974.6 420.2ZM968.2 421.3h1.4v3.5h-1.4Z"/><path d="M962.8 456.1 L961.3 457.1 L957.7 458.2 L955.3 457.2 L954.5 456.3 L954.8 454.3 L958.2 453.9 L961.1 454.3Z"/><path d="M1009.6 464.6 L1009.6 465.8 L1005.7 466.1 L1003.2 465.7 L1001.1 464.1 L1002.4 462.7 L1005.7 462.6 L1009.7 462.9Z"/><path d="M1130.4 485.2 L1129.2 487.4 L1127.3 487.5 L1124.7 487.4 L1123.6 485.3 L1124.4 483.7 L1126.9 483.5 L1129.9 484.1Z"/><path d="M1037.9 414.7 L1036.3 415.5 L1033.8 416.1 L1031.0 415.6 L1030.1 414.8 L1031.2 413.2 L1033.2 413.2 L1036.0 413.1Z"/><path d="M914.4 423.4 L911.8 424.4 L908.0 425.1 L904.6 424.4 L902.5 423.1 L905.5 421.7 L908.5 421.8 L912.1 422.0Z"/><path d="M1013.5 418.6 L1012.3 419.9 L1010.0 420.6 L1007.2 420.1 L1006.4 418.2 L1007.3 417.2 L1010.0 416.6 L1012.2 417.3Z"/><path d="M890.1 462.4 L889.4 464.2 L887.7 465.0 L884.0 463.9 L883.9 462.1 L884.3 461.1 L887.6 460.1 L889.2 460.4Z"/><path d="M1007.0 465.2 L1005.3 466.7 L1002.2 466.7 L998.0 466.2 L997.3 465.1 L997.1 463.3 L1001.4 463.1 L1005.2 463.4ZM999.0 464.9h1.4v3.9h-1.4Z"/><path d="M1027.4 432.2 L1025.1 433.9 L1021.7 434.1 L1019.1 433.9 L1017.1 432.4 L1019.0 431.5 L1022.7 431.0 L1025.6 431.1Z"/><path d="M976.8 442.1 L975.4 443.5 L973.3 444.7 L967.6 443.8 L967.4 442.6 L969.8 441.0 L972.1 440.4 L976.5 441.0Z"/><path d="M1166.7 459.9 L1166.1 461.8 L1160.8 462.0 L1157.1 461.7 L1156.8 460.0 L1158.2 458.8 L1161.2 458.1 L1164.8 458.6Z"/><path d="M894.4 450.7 L894.2 452.5 L890.4 453.6 L888.7 452.7 L888.2 450.9 L888.6 449.6 L890.6 448.9 L893.0 449.7Z"/><path d="M998.0 405.4 L996.8 406.8 L994.6 407.0 L990.5 406.4 L988.7 405.1 L991.0 403.7 L993.7 403.5 L996.2 403.9ZM994.5 405.3h1.4v3.6h-1.4Z"/><path d="M1108.8 463.0 L1108.2 464.0 L1103.3 464.9 L1100.2 464.0 L1099.7 463.1 L1100.7 461.6 L1103.3 461.0 L1108.6 461.6Z"/><path d="M934.4 447.4 L932.5 449.2 L930.7 449.8 L926.9 449.3 L926.3 447.3 L927.0 445.9 L930.3 445.7 L932.5 446.2Z"/><path d="M1106.1 463.1 L1104.5 464.9 L1102.3 465.1 L1100.2 465.3 L1099.0 463.7 L1100.4 461.7 L1102.5 461.5 L1104.6 462.2Z"/><path d="M1024.1 477.9 L1023.2 479.5 L1020.6 480.2 L1017.6 479.4 L1016.4 478.2 L1017.0 476.9 L1020.2 476.2 L1023.6 477.0Z"/><path d="M1021.6 498.9 L1021.6 500.7 L1018.2 501.3 L1014.5 500.3 L1013.2 498.8 L1013.4 497.2 L1018.2 496.8 L1020.4 497.0ZM1019.1 499.0h1.4v4.8h-1.4Z"/><path d="M962.4 427.1 L961.7 428.6 L959.0 429.4 L956.9 428.2 L956.0 427.2 L957.1 425.7 L959.2 425.3 L961.6 425.3Z"/><path d="M969.7 432.7 L968.9 434.5 L965.5 435.2 L963.0 434.4 L961.7 432.6 L962.5 431.1 L965.6 430.4 L967.4 431.3ZM964.7 433.0h1.4v4.4h-1.4Z"/><path d="M942.2 493.2 L941.1 494.8 L938.3 495.2 L935.4 494.7 L934.4 493.4 L936.8 491.9 L938.8 491.0 L941.4 491.5Z"/><path d="M1119.8 433.9 L1119.1 435.9 L1115.8 436.8 L1111.6 435.8 L1109.5 434.3 L1112.1 432.5 L1116.2 431.8 L1118.8 431.9Z"/><path d="M1114.4 439.8 L1114.1 440.9 L1111.2 442.0 L1107.7 441.1 L1106.4 439.9 L1107.5 438.1 L1110.0 437.4 L1113.5 438.3Z"/><path d="M1119.1 477.0 L1118.0 478.3 L1114.6 479.1 L1112.2 478.5 L1110.6 477.4 L1112.0 476.5 L1114.8 475.7 L1117.5 476.3Z"/><path d="M892.6 423.5 L891.0 425.8 L887.9 426.8 L885.4 425.2 L884.1 424.1 L885.2 421.6 L889.0 421.2 L891.7 422.1Z"/><path d="M1112.3 410.9 L1111.0 412.0 L1108.5 412.8 L1105.6 411.7 L1105.5 410.5 L1106.8 409.1 L1108.2 408.3 L1111.5 409.2ZM1109.9 410.6h1.4v3.9h-1.4Z"/><path d="M1076.5 489.6 L1076.5 490.7 L1073.2 491.9 L1069.6 490.9 L1069.2 489.5 L1070.0 487.9 L1072.6 487.5 L1075.5 487.8Z"/><path d="M930.1 471.6 L927.4 473.2 L924.3 473.8 L921.8 472.9 L920.7 472.0 L921.5 470.2 L925.4 470.1 L928.3 471.0Z"/><path d="M980.9 440.1 L980.6 441.2 L977.8 441.5 L975.3 441.1 L975.0 440.0 L975.7 438.5 L978.1 438.5 L980.0 438.6Z"/><path d="M1055.6 422.3 L1053.4 423.4 L1051.6 424.0 L1047.7 423.6 L1045.7 421.7 L1047.5 420.5 L1050.1 420.2 L1053.1 420.6Z"/><path d="M879.9 447.7 L878.2 448.8 L876.1 449.1 L873.3 448.3 L872.5 447.5 L873.3 446.4 L876.0 445.7 L878.5 446.5Z"/><path d="M974.8 478.6 L973.2 480.2 L971.1 481.0 L968.8 480.2 L967.7 479.3 L968.7 476.9 L971.4 476.7 L974.2 477.2Z"/><path d="M924.9 491.3 L923.8 492.7 L920.4 493.4 L918.3 493.1 L916.6 491.8 L918.6 490.2 L920.1 489.7 L923.2 489.7Z"/><path d="M1048.1 450.7 L1045.9 452.1 L1044.0 452.5 L1040.9 452.1 L1038.1 450.6 L1039.6 448.9 L1044.0 448.3 L1046.8 449.6ZM1043.6 450.6h1.4v3.8h-1.4Z"/><path d="M1093.7 437.7 L1093.2 439.5 L1090.2 439.9 L1085.9 439.4 L1083.9 437.1 L1085.9 436.3 L1089.7 435.4 L1093.7 435.5Z"/><path d="M913.2 409.6 L910.7 411.2 L906.5 412.5 L904.3 411.9 L901.5 409.7 L904.1 408.2 L908.2 408.1 L911.7 408.6Z"/><path d="M1050.4 487.1 L1048.5 488.1 L1044.8 488.7 L1041.1 488.8 L1039.9 486.2 L1041.8 485.2 L1044.8 483.8 L1048.2 484.7Z"/><path d="M1004.2 440.1 L1003.4 441.2 L999.1 442.2 L997.0 441.4 L995.3 440.2 L996.1 438.7 L999.6 438.6 L1004.2 439.0Z"/><path d="M964.8 496.8 L965.0 498.3 L961.5 498.7 L959.1 498.5 L958.1 496.4 L960.2 494.8 L961.3 493.7 L964.4 494.3Z"/><path d="M982.1 478.1 L981.1 479.6 L979.0 480.8 L975.6 479.7 L974.1 478.6 L975.5 476.9 L977.6 476.4 L981.1 476.7ZM975.7 478.4h1.4v4.1h-1.4Z"/><path d="M1029.2 415.8 L1028.8 417.0 L1026.6 417.3 L1023.9 416.9 L1022.9 415.5 L1023.2 414.4 L1026.0 414.2 L1028.8 414.3Z"/><path d="M959.3 399.1 L957.4 400.8 L953.4 401.6 L949.5 400.8 L949.7 399.3 L951.0 398.1 L954.9 397.2 L958.2 397.9ZM953.9 399.4h1.4v3.7h-1.4Z"/><path d="M1068.0 495.9 L1067.4 497.2 L1065.1 497.7 L1062.7 497.0 L1061.7 495.6 L1062.5 494.4 L1064.9 493.9 L1066.9 494.2Z"/><path d="M1109.7 401.6 L1109.2 403.0 L1105.4 403.5 L1103.4 403.0 L1101.2 401.7 L1103.8 400.6 L1106.4 400.1 L1108.3 400.2Z"/><path d="M1009.7 479.7 L1007.5 481.7 L1003.9 481.7 L999.9 481.3 L998.9 479.7 L1000.1 478.8 L1004.3 478.1 L1007.4 478.4ZM1002.1 479.9h1.4v4.1h-1.4Z"/><path d="M1003.5 495.0 L1002.4 496.1 L997.7 496.6 L995.5 496.4 L992.8 495.2 L994.5 494.2 L998.4 493.6 L1001.5 493.9Z"/><path d="M990.6 429.9 L987.7 431.5 L985.2 431.9 L980.6 431.6 L980.3 430.2 L981.7 428.0 L984.3 427.5 L988.6 427.9Z"/><path d="M885.0 452.4 L884.5 453.9 L881.2 454.9 L878.4 454.0 L876.2 452.9 L877.8 450.8 L880.8 450.5 L883.7 451.1ZM881.8 452.6h1.4v3.8h-1.4Z"/><path d="M994.4 445.5 L993.0 446.9 L990.9 447.6 L988.3 447.0 L986.7 445.7 L988.3 444.3 L990.5 443.8 L993.5 444.2ZM990.3 445.8h1.4v4.1h-1.4Z"/><path d="M1111.4 419.3 L1109.9 420.8 L1107.5 421.5 L1106.0 420.7 L1104.1 419.3 L1105.9 417.6 L1108.0 417.2 L1110.1 418.2Z"/><path d="M1025.1 455.2 L1023.2 456.3 L1019.5 457.1 L1015.7 456.2 L1014.2 455.4 L1014.8 453.8 L1020.0 453.4 L1022.0 453.8Z"/><path d="M883.8 441.1 L883.7 442.7 L880.8 443.9 L878.1 443.2 L877.5 441.0 L878.2 440.0 L880.5 439.3 L883.4 440.1Z"/><path d="M925.7 424.4 L924.8 426.1 L921.2 426.2 L917.3 426.0 L917.3 424.7 L917.5 423.6 L922.3 422.6 L924.6 423.6Z"/><path d="M927.7 441.0 L927.0 442.4 L922.7 442.6 L919.9 441.8 L918.9 441.2 L920.0 439.8 L923.4 439.7 L926.5 439.6Z"/><path d="M1150.9 440.7 L1150.3 442.0 L1146.9 442.4 L1143.5 442.3 L1142.1 440.4 L1143.2 439.2 L1146.5 438.6 L1149.6 439.0Z"/><path d="M1002.3 475.1 L1002.5 476.6 L999.9 477.4 L997.4 475.9 L996.4 474.7 L997.8 473.1 L999.7 472.7 L1002.0 473.1Z"/><path d="M1082.2 434.2 L1079.4 435.3 L1076.7 436.0 L1073.3 435.1 L1071.9 434.1 L1073.7 432.5 L1077.0 432.2 L1079.4 432.4Z"/><path d="M1090.0 436.6 L1088.7 438.2 L1087.3 439.0 L1083.1 438.3 L1083.1 436.3 L1083.3 434.5 L1086.0 433.6 L1089.1 434.2ZM1086.7 436.3h1.4v4.9h-1.4Z"/><path d="M927.0 434.8 L924.0 436.5 L920.5 436.8 L916.0 436.4 L915.5 435.4 L917.2 434.1 L919.7 433.3 L925.7 434.1Z"/><path d="M1118.8 459.1 L1117.5 460.1 L1115.3 460.7 L1113.8 460.2 L1112.3 459.1 L1112.8 457.5 L1115.2 457.4 L1117.8 457.9ZM1114.9 459.0h1.4v3.4h-1.4Z"/><path d="M990.0 465.2 L990.3 466.4 L985.4 467.2 L982.7 466.4 L981.8 465.3 L982.4 464.0 L986.1 463.3 L988.9 464.1Z"/><path d="M1081.7 446.5 L1080.7 447.8 L1078.2 448.0 L1075.7 447.3 L1075.4 446.2 L1076.3 445.2 L1079.2 444.7 L1081.4 445.3Z"/><path d="M949.8 434.0 L949.0 435.1 L946.5 435.8 L942.0 435.5 L940.7 433.8 L941.9 432.7 L946.4 432.5 L949.3 433.2Z"/><path d="M939.5 475.8 L938.3 477.0 L937.0 478.0 L933.9 476.8 L932.7 476.0 L933.5 474.9 L936.1 473.6 L938.7 474.1ZM936.2 475.8h1.4v3.7h-1.4Z"/><path d="M956.5 445.8 L955.6 447.1 L954.0 447.7 L951.9 447.4 L950.4 445.9 L950.5 444.9 L953.1 444.5 L955.6 444.5Z"/><path d="M1044.6 449.6 L1042.3 451.0 L1038.6 451.8 L1036.6 451.2 L1034.6 448.9 L1034.4 447.6 L1039.2 446.8 L1042.5 447.7Z"/><path d="M1156.4 446.5 L1153.3 448.3 L1151.8 449.1 L1147.5 448.7 L1145.9 446.7 L1147.0 445.3 L1150.5 444.9 L1154.8 445.0Z"/><path d="M1006.0 487.7 L1006.3 488.9 L1003.3 489.7 L1000.9 489.4 L1000.1 487.5 L1000.8 486.7 L1003.0 486.0 L1006.0 486.5Z"/><path d="M1054.6 484.5 L1053.8 485.6 L1050.0 486.5 L1047.0 485.9 L1045.3 484.6 L1047.1 483.6 L1050.4 483.0 L1053.1 483.4Z"/><path d="M1101.9 423.6 L1100.5 424.8 L1096.8 425.8 L1093.8 425.0 L1092.1 423.1 L1092.4 422.1 L1097.4 421.4 L1099.9 421.8Z"/><path d="M1135.6 469.9 L1135.2 471.8 L1132.2 472.4 L1130.4 471.5 L1128.9 469.3 L1130.1 467.5 L1133.0 467.2 L1135.5 468.2ZM1133.6 469.6h1.4v4.8h-1.4Z"/><path d="M978.3 481.7 L976.9 483.2 L972.7 483.7 L969.3 483.4 L967.5 482.0 L969.4 479.8 L973.7 479.4 L977.8 480.1Z"/><path d="M892.3 414.2 L892.0 415.4 L890.0 416.0 L887.8 415.7 L886.3 414.7 L887.0 413.1 L889.3 412.5 L891.7 413.0ZM887.5 414.5h1.4v3.7h-1.4Z"/><path d="M932.4 413.9 L931.3 415.6 L927.5 416.3 L925.2 415.4 L923.0 414.0 L924.3 412.9 L928.4 412.1 L930.7 412.2Z"/><path d="M1150.5 445.0 L1149.7 447.1 L1147.2 447.4 L1144.7 446.5 L1143.7 444.9 L1145.1 443.2 L1147.7 443.4 L1149.4 443.8Z"/><path d="M1004.2 454.8 L1004.1 455.8 L999.8 457.2 L997.0 456.0 L995.6 454.7 L996.7 452.7 L999.4 451.9 L1003.1 453.0ZM1000.8 454.5h1.4v4.5h-1.4Z"/><path d="M1122.8 471.6 L1122.1 473.8 L1118.5 474.2 L1114.1 474.3 L1112.9 472.0 L1114.4 469.9 L1118.9 469.2 L1121.4 470.3Z"/><path d="M1094.6 421.4 L1093.1 422.5 L1089.8 423.0 L1085.5 422.7 L1083.7 421.8 L1085.5 420.4 L1090.3 419.8 L1092.4 420.2ZM1091.0 421.6h1.4v3.4h-1.4Z"/><path d="M1003.2 429.1 L1002.6 430.2 L997.6 431.1 L995.5 430.2 L994.2 429.2 L994.8 428.0 L999.4 427.6 L1001.2 428.2Z"/><path d="M971.5 426.8 L970.7 428.6 L967.1 429.0 L964.7 428.0 L962.6 426.8 L963.9 425.0 L967.4 424.5 L971.7 425.3Z"/><path d="M903.7 455.9 L902.4 456.8 L897.0 457.2 L894.0 457.1 L892.4 455.3 L893.8 454.0 L896.6 453.6 L900.5 454.3Z"/><path d="M1047.2 503.5 L1046.7 505.2 L1044.4 505.2 L1041.8 505.2 L1041.2 503.2 L1041.1 502.3 L1044.5 501.9 L1046.5 502.2Z"/><path d="M1040.1 497.0 L1039.4 498.2 L1037.1 499.1 L1033.2 498.4 L1032.8 496.9 L1033.7 495.9 L1036.7 495.2 L1039.3 495.2ZM1038.0 497.0h1.4v3.8h-1.4Z"/><path d="M964.8 468.1 L963.5 469.1 L959.6 469.8 L955.6 468.9 L953.4 467.6 L955.9 466.5 L959.6 466.2 L963.4 466.7Z"/><path d="M1154.4 424.0 L1152.8 425.1 L1150.3 425.8 L1146.8 425.7 L1146.3 423.6 L1147.5 422.4 L1149.8 422.0 L1152.6 422.0Z"/><path d="M1015.2 492.2 L1014.6 493.4 L1012.6 493.8 L1009.9 493.6 L1008.6 492.2 L1009.3 490.8 L1012.7 490.2 L1014.9 491.0ZM1013.0 492.1h1.4v3.7h-1.4Z"/><path d="M1096.1 401.4 L1095.7 403.0 L1091.3 403.7 L1088.8 403.1 L1086.7 401.7 L1088.3 400.4 L1090.9 399.5 L1094.3 400.1Z"/><path d="M1032.9 419.9 L1031.0 420.9 L1028.8 421.4 L1025.3 421.0 L1024.4 419.9 L1025.9 418.0 L1028.8 417.3 L1030.7 418.0Z"/><path d="M1058.9 473.5 L1057.7 475.1 L1054.4 475.5 L1051.8 474.6 L1051.1 473.7 L1053.2 472.1 L1054.6 471.3 L1057.1 472.2Z"/><path d="M969.4 425.7 L969.4 427.2 L966.0 427.2 L964.0 426.7 L962.3 425.8 L963.9 423.5 L965.8 423.9 L968.7 424.0ZM967.3 425.5h1.4v4.0h-1.4Z"/><path d="M1007.1 503.0 L1004.9 504.8 L1003.4 505.8 L1000.8 504.7 L999.9 503.3 L1001.5 502.0 L1003.3 501.0 L1004.9 501.8Z"/><path d="M1048.9 486.1 L1047.4 487.0 L1045.8 487.6 L1041.6 487.3 L1041.3 486.1 L1041.4 484.9 L1044.5 484.4 L1048.5 484.5Z"/><path d="M986.6 430.5 L985.2 431.8 L982.4 432.4 L978.9 432.1 L979.2 430.7 L979.8 429.2 L982.2 428.4 L984.4 429.1ZM980.3 430.6h1.4v4.4h-1.4Z"/><path d="M917.7 580.0 L917.0 581.2 L914.0 581.5 L911.1 581.0 L910.5 580.2 L911.3 579.0 L914.6 578.3 L916.1 578.9Z"/><path d="M999.8 662.1 L998.5 663.1 L995.4 663.4 L989.6 663.0 L988.7 661.9 L991.4 660.6 L995.6 659.9 L999.0 660.4Z"/><path d="M924.8 648.2 L923.1 649.4 L919.2 650.2 L916.4 649.7 L915.1 648.2 L917.9 646.9 L919.4 646.5 L924.3 646.8ZM917.3 648.2h1.4v3.5h-1.4Z"/><path d="M985.7 558.0 L985.0 559.5 L981.8 560.1 L980.7 559.6 L978.7 558.0 L979.5 556.4 L982.2 556.4 L985.3 556.4Z"/><path d="M1031.1 626.8 L1029.6 628.7 L1026.5 628.9 L1023.7 628.5 L1023.1 626.8 L1024.2 625.8 L1027.4 625.2 L1030.6 625.9Z"/><path d="M988.0 593.2 L985.1 595.7 L982.6 595.8 L978.7 595.3 L977.9 593.8 L979.8 592.0 L983.1 591.6 L985.5 592.0ZM979.3 593.7h1.4v4.9h-1.4Z"/><path d="M934.0 565.1 L932.6 567.0 L929.4 567.4 L926.2 566.9 L923.5 565.1 L926.1 563.2 L928.5 562.4 L932.9 563.1Z"/><path d="M884.8 565.6 L883.8 566.8 L881.2 567.8 L879.4 566.9 L877.8 565.9 L878.8 564.0 L881.2 563.5 L883.1 564.4ZM881.9 565.7h1.4v3.6h-1.4Z"/><path d="M1109.7 569.1 L1107.2 570.6 L1104.1 570.7 L1099.6 570.7 L1097.9 568.5 L1101.0 567.7 L1103.8 566.6 L1107.8 567.5Z"/><path d="M1030.1 614.4 L1029.5 615.8 L1026.3 615.8 L1023.9 615.5 L1021.7 614.3 L1021.8 612.8 L1026.1 612.0 L1029.3 613.1Z"/><path d="M1101.9 560.4 L1100.3 561.4 L1095.6 562.2 L1092.9 562.1 L1090.6 560.9 L1093.0 559.6 L1097.2 559.2 L1100.2 559.9ZM1093.8 560.6h1.4v3.2h-1.4Z"/><path d="M931.3 572.5 L929.5 574.4 L927.4 575.1 L925.0 574.5 L924.8 572.6 L924.7 571.2 L928.1 570.9 L929.7 570.7Z"/><path d="M904.7 575.1 L903.0 577.2 L900.4 577.7 L897.1 576.7 L894.7 575.3 L895.5 573.8 L900.5 573.1 L903.4 573.5Z"/><path d="M1043.2 526.9 L1042.3 528.3 L1038.5 529.0 L1034.8 528.3 L1034.5 526.7 L1035.6 525.6 L1039.0 525.3 L1040.5 525.6ZM1035.8 526.9h1.4v3.7h-1.4Z"/><path d="M983.7 606.2 L982.9 607.5 L980.2 607.9 L976.9 607.3 L975.5 606.6 L977.1 605.1 L980.8 605.0 L982.9 605.2ZM977.4 606.4h1.4v3.3h-1.4Z"/><path d="M969.7 627.5 L969.5 628.6 L964.0 629.2 L961.2 628.9 L958.8 626.9 L961.0 625.1 L963.7 624.7 L969.0 625.9ZM966.1 627.2h1.4v4.7h-1.4Z"/><path d="M1030.7 563.6 L1029.3 564.6 L1025.9 565.0 L1021.7 564.6 L1019.7 562.9 L1022.3 561.7 L1024.6 561.4 L1028.0 561.6Z"/><path d="M955.5 557.5 L951.7 558.9 L948.9 559.3 L945.5 558.9 L943.4 557.3 L945.2 555.8 L949.1 555.6 L952.2 555.9Z"/><path d="M919.7 556.9 L918.1 558.9 L914.0 559.3 L910.3 558.5 L908.6 557.0 L911.1 555.4 L913.9 555.2 L918.8 555.7Z"/><path d="M907.9 543.7 L907.4 544.9 L905.0 545.7 L900.5 545.1 L900.6 543.5 L901.8 541.9 L904.8 541.8 L906.4 542.2ZM903.8 543.6h1.4v4.0h-1.4Z"/><path d="M1016.6 645.1 L1014.1 646.7 L1011.1 647.9 L1008.4 647.3 L1007.5 645.5 L1008.2 644.4 L1011.2 643.5 L1014.6 643.8Z"/><path d="M864.0 575.7 L862.4 577.1 L859.6 577.7 L857.1 577.5 L856.7 575.9 L857.6 574.6 L860.0 574.1 L862.5 574.0Z"/><path d="M995.4 648.5 L993.7 649.7 L991.8 650.2 L989.6 650.1 L988.3 648.4 L989.2 647.3 L991.6 646.6 L993.4 647.4ZM990.3 648.7h1.4v3.6h-1.4Z"/><path d="M945.5 552.1 L944.3 553.4 L942.1 554.6 L939.4 553.7 L937.8 552.5 L938.6 550.7 L941.4 549.9 L944.7 550.4ZM942.3 552.2h1.4v4.2h-1.4Z"/><path d="M916.2 599.6 L915.7 600.8 L912.2 601.3 L908.3 601.1 L906.2 599.6 L908.0 598.5 L912.3 598.2 L915.2 598.9Z"/><path d="M995.3 623.7 L993.3 624.8 L990.7 625.5 L987.3 625.2 L985.6 623.9 L987.1 622.3 L990.6 622.3 L993.3 622.2Z"/><path d="M945.4 578.2 L944.3 580.0 L941.7 580.1 L938.9 579.4 L937.5 577.8 L937.9 576.1 L941.0 575.9 L944.1 576.8Z"/><path d="M1036.3 527.3 L1034.4 528.4 L1029.6 529.2 L1027.5 528.5 L1025.3 527.0 L1027.9 526.1 L1029.8 525.7 L1033.8 526.4Z"/><path d="M1129.0 572.7 L1128.0 573.9 L1124.7 574.6 L1122.1 574.0 L1121.5 572.7 L1123.0 570.9 L1124.9 570.6 L1127.6 571.0ZM1126.8 572.7h1.4v4.3h-1.4Z"/><path d="M998.4 628.9 L996.7 630.2 L994.5 630.4 L992.6 630.0 L991.2 628.8 L993.0 627.1 L995.5 627.0 L997.5 627.0Z"/><path d="M947.6 610.6 L947.5 611.7 L943.8 612.1 L939.9 611.7 L937.4 610.4 L939.7 609.2 L944.3 608.9 L946.0 609.7ZM939.8 610.7h1.4v3.2h-1.4Z"/><path d="M967.2 581.8 L965.9 583.7 L963.4 584.0 L959.3 583.3 L957.1 582.3 L959.8 580.7 L961.8 580.4 L966.7 580.8ZM961.0 582.2h1.4v3.9h-1.4Z"/><path d="M986.8 590.5 L984.6 591.6 L982.2 592.1 L979.9 592.0 L979.2 590.8 L980.0 589.5 L983.0 589.2 L985.2 589.6ZM980.8 590.5h1.4v3.2h-1.4Z"/><path d="M931.6 576.7 L930.1 578.1 L928.2 578.7 L925.3 578.4 L924.2 577.1 L924.7 575.1 L928.4 574.5 L929.9 574.8Z"/><path d="M986.8 601.0 L985.7 602.3 L981.8 602.8 L976.7 602.4 L975.5 601.2 L976.9 600.0 L981.3 599.0 L985.3 600.0ZM978.6 601.1h1.4v3.6h-1.4Z"/><path d="M941.3 601.3 L940.0 603.0 L938.2 603.9 L934.8 602.6 L934.5 601.0 L935.0 599.6 L937.9 598.2 L939.9 598.8Z"/><path d="M900.4 633.6 L899.1 634.8 L897.4 635.0 L894.3 634.8 L892.9 633.8 L895.1 632.5 L896.8 632.2 L899.7 632.5Z"/><path d="M1028.1 650.7 L1026.4 651.8 L1023.7 652.3 L1019.5 652.1 L1019.2 650.8 L1020.3 649.9 L1023.0 649.0 L1026.7 649.6Z"/><path d="M1117.4 594.5 L1116.3 595.8 L1113.1 596.0 L1110.7 595.9 L1110.1 594.4 L1111.0 593.3 L1114.1 592.8 L1116.8 593.5Z"/><path d="M955.8 558.7 L953.7 559.4 L950.9 560.0 L949.0 559.4 L948.4 558.1 L948.8 557.2 L952.2 556.6 L954.2 557.2Z"/><path d="M1136.7 586.8 L1134.5 588.3 L1132.5 589.2 L1129.1 588.6 L1128.1 586.7 L1129.1 585.6 L1132.1 584.6 L1134.5 585.0ZM1133.3 586.7h1.4v4.1h-1.4Z"/><path d="M1120.9 553.8 L1118.9 555.9 L1115.1 556.2 L1112.8 555.2 L1111.9 554.5 L1112.5 552.4 L1115.4 552.2 L1120.0 552.9Z"/><path d="M875.3 605.1 L872.7 606.5 L869.6 607.2 L867.3 606.3 L866.0 605.2 L867.5 602.9 L870.7 603.0 L873.1 603.6Z"/><path d="M1050.1 629.3 L1049.2 630.4 L1046.6 631.2 L1044.1 630.7 L1042.4 629.4 L1043.3 628.0 L1046.0 627.6 L1048.9 628.2Z"/><path d="M891.0 598.0 L889.9 600.2 L885.7 600.8 L883.5 599.7 L882.2 598.0 L883.3 596.8 L887.0 596.3 L890.2 596.8Z"/><path d="M1052.7 641.7 L1051.3 642.9 L1049.7 643.3 L1046.8 643.0 L1045.8 641.8 L1046.9 639.8 L1049.7 639.2 L1051.7 640.0Z"/><path d="M1142.3 556.7 L1139.5 557.6 L1135.7 558.8 L1133.2 557.7 L1131.6 556.7 L1134.2 554.6 L1136.1 554.2 L1141.3 554.8Z"/><path d="M1064.5 604.3 L1063.4 605.8 L1059.4 606.7 L1056.1 605.5 L1054.3 604.8 L1055.4 603.2 L1058.7 602.4 L1063.2 602.8Z"/><path d="M979.2 644.4 L978.1 646.2 L975.3 646.9 L971.5 645.7 L970.5 644.3 L972.3 643.0 L975.9 642.3 L977.6 642.8Z"/><path d="M1003.8 621.4 L1003.3 622.5 L1000.2 623.0 L996.6 622.4 L996.2 621.1 L996.7 619.4 L999.3 619.3 L1003.5 619.4ZM999.4 621.2h1.4v4.4h-1.4Z"/><path d="M864.5 596.6 L863.0 597.5 L858.9 598.3 L855.6 597.7 L854.4 596.7 L855.2 595.0 L860.0 595.0 L863.0 594.9Z"/><path d="M979.9 626.4 L978.8 627.7 L975.3 629.0 L973.2 628.3 L971.5 626.0 L973.3 624.8 L976.0 624.2 L980.4 624.6Z"/><path d="M992.4 655.9 L991.2 658.0 L987.8 658.3 L984.5 657.5 L982.6 655.9 L984.9 654.4 L988.3 654.0 L990.7 654.4Z"/><path d="M919.4 586.8 L917.8 588.1 L915.8 588.6 L912.8 588.1 L911.6 586.8 L912.5 585.7 L915.9 585.4 L918.3 585.9ZM916.4 587.1h1.4v3.2h-1.4Z"/><path d="M885.1 598.7 L883.3 600.4 L879.8 601.4 L878.0 600.8 L877.0 599.0 L878.0 596.6 L880.3 596.7 L884.4 597.4Z"/><path d="M1045.0 548.5 L1044.1 550.7 L1040.5 551.3 L1037.2 550.7 L1037.0 548.4 L1037.7 547.4 L1041.6 546.5 L1044.2 547.4ZM1039.2 548.7h1.4v4.9h-1.4Z"/><path d="M1051.9 554.4 L1050.1 555.4 L1047.4 556.5 L1044.5 555.3 L1043.9 554.3 L1045.0 552.1 L1048.4 551.7 L1050.3 552.3Z"/><path d="M1022.5 654.4 L1021.9 655.6 L1019.3 656.3 L1015.7 655.6 L1015.5 654.0 L1016.7 652.5 L1018.2 652.2 L1021.5 653.1ZM1018.4 654.1h1.4v3.9h-1.4Z"/><path d="M1066.9 620.0 L1065.4 621.3 L1063.9 621.8 L1060.8 621.1 L1059.7 620.0 L1060.4 618.2 L1063.7 617.2 L1066.5 617.8Z"/><path d="M893.4 636.6 L892.8 637.6 L890.2 638.2 L886.4 637.9 L884.9 636.6 L887.2 635.6 L889.4 634.8 L892.0 635.7Z"/><path d="M1036.8 594.8 L1036.2 596.3 L1032.5 597.5 L1030.9 596.3 L1029.0 594.4 L1029.9 593.1 L1032.7 592.5 L1036.0 593.2Z"/><path d="M1103.4 605.3 L1103.1 606.4 L1098.4 606.6 L1094.6 606.4 L1092.9 605.3 L1095.8 603.5 L1098.1 603.4 L1102.3 603.8Z"/><path d="M972.3 622.2 L972.0 623.7 L969.1 624.8 L964.6 623.7 L964.9 622.2 L966.0 621.0 L968.0 620.2 L972.2 621.0ZM967.8 622.3h1.4v4.2h-1.4Z"/><path d="M1066.1 609.5 L1065.0 611.5 L1060.9 611.1 L1057.8 610.6 L1057.1 608.8 L1057.8 607.3 L1061.6 606.1 L1064.9 607.1Z"/><path d="M1079.0 527.4 L1076.7 528.3 L1073.9 529.1 L1068.6 528.3 L1068.3 526.9 L1068.5 526.0 L1073.2 525.5 L1077.2 526.0Z"/><path d="M1077.9 544.8 L1076.6 546.3 L1073.1 546.5 L1069.4 546.2 L1068.9 545.0 L1069.1 543.8 L1072.5 543.1 L1076.4 543.9Z"/><path d="M978.2 536.2 L976.6 537.4 L975.1 538.5 L970.9 537.3 L970.3 536.4 L971.0 535.2 L974.8 534.1 L976.8 534.8ZM973.9 536.3h1.4v3.7h-1.4Z"/><path d="M987.4 583.7 L985.1 586.3 L981.7 586.2 L978.0 585.6 L977.8 584.1 L979.2 582.6 L983.0 581.5 L986.0 582.5Z"/><path d="M1058.8 545.2 L1057.4 546.6 L1053.7 547.0 L1050.8 546.6 L1048.8 544.7 L1050.9 543.3 L1054.9 543.2 L1058.2 544.0Z"/><path d="M1094.1 546.8 L1093.1 548.5 L1090.5 549.1 L1087.5 548.3 L1086.8 547.1 L1088.7 545.2 L1090.5 543.9 L1093.0 545.1Z"/><path d="M998.9 636.3 L996.9 637.5 L992.8 638.0 L989.4 637.4 L988.4 636.2 L990.4 634.1 L993.4 633.5 L995.9 634.4Z"/><path d="M1137.8 593.9 L1136.3 595.3 L1133.1 596.3 L1130.5 595.7 L1129.5 594.1 L1129.9 592.0 L1133.8 591.9 L1137.0 592.6Z"/><path d="M1151.3 577.1 L1149.4 578.3 L1147.8 579.4 L1144.2 578.6 L1142.9 577.6 L1144.3 575.5 L1146.6 575.3 L1149.5 575.9ZM1144.7 577.3h1.4v3.7h-1.4Z"/><path d="M1102.4 555.1 L1101.7 556.5 L1099.8 557.1 L1097.4 556.2 L1096.6 555.4 L1097.3 553.9 L1099.1 553.3 L1101.9 553.6Z"/><path d="M972.2 580.2 L971.4 581.8 L968.1 582.4 L964.8 581.4 L963.2 580.1 L964.5 578.6 L968.7 578.1 L970.4 578.6Z"/><path d="M1129.3 616.1 L1127.4 618.2 L1123.2 618.4 L1120.5 617.6 L1118.8 616.0 L1121.3 614.5 L1123.7 614.0 L1126.8 614.9Z"/><path d="M985.8 611.9 L982.9 612.9 L979.8 613.4 L977.8 612.8 L974.7 611.3 L977.3 610.1 L980.2 609.8 L984.0 610.7ZM981.6 611.6h1.4v3.3h-1.4Z"/><path d="M959.0 639.4 L958.5 640.6 L953.8 641.1 L950.7 640.6 L947.7 639.1 L951.1 638.3 L954.3 638.0 L957.5 638.0Z"/><path d="M1034.2 649.6 L1032.6 651.2 L1029.4 651.8 L1026.2 651.0 L1024.9 649.9 L1026.0 648.4 L1029.2 647.9 L1033.2 648.2ZM1028.2 649.8h1.4v3.7h-1.4Z"/><path d="M1099.1 633.5 L1098.3 634.9 L1095.9 635.9 L1094.0 635.0 L1093.0 633.3 L1093.6 631.9 L1096.4 631.0 L1098.9 632.1Z"/><path d="M1001.4 579.0 L999.7 580.4 L997.4 581.1 L996.1 580.7 L995.0 579.4 L995.8 577.6 L998.5 577.3 L1000.2 578.3ZM996.0 579.3h1.4v3.4h-1.4Z"/><path d="M1047.6 636.7 L1047.5 637.9 L1044.2 638.3 L1040.1 638.2 L1038.8 637.1 L1040.4 635.7 L1042.8 634.8 L1046.7 635.4Z"/><path d="M926.4 565.7 L925.9 567.0 L922.3 568.2 L919.6 567.0 L919.0 565.8 L919.4 563.7 L923.0 562.4 L924.7 563.3Z"/><path d="M1093.7 627.9 L1092.2 628.7 L1089.7 629.3 L1087.8 628.6 L1086.8 627.5 L1087.4 626.6 L1090.9 625.9 L1091.9 626.5Z"/><path d="M1006.7 576.6 L1007.0 578.2 L1001.9 578.5 L997.4 578.0 L996.5 575.8 L998.7 575.1 L1003.2 573.9 L1006.2 574.2Z"/><path d="M959.3 576.6 L958.6 579.0 L954.9 579.8 L952.6 578.7 L950.4 577.3 L951.5 575.3 L954.6 574.8 L958.3 574.7Z"/><path d="M1015.1 661.1 L1014.2 662.5 L1012.1 663.0 L1008.6 662.8 L1008.2 661.4 L1009.1 659.2 L1011.2 658.9 L1014.4 659.1ZM1012.1 661.1h1.4v4.5h-1.4Z"/><path d="M1097.3 557.3 L1096.9 558.9 L1092.5 559.3 L1089.4 559.3 L1087.6 557.6 L1089.0 556.5 L1093.7 555.9 L1096.3 556.5Z"/><path d="M986.6 594.9 L985.6 595.8 L981.6 596.6 L978.9 595.8 L976.5 595.0 L978.8 593.3 L982.0 592.9 L984.6 592.9Z"/><path d="M947.9 531.7 L945.3 532.8 L943.0 533.2 L940.0 533.1 L939.3 531.8 L940.7 530.1 L943.6 530.0 L945.3 530.3Z"/><path d="M922.9 536.6 L920.4 538.7 L916.5 538.6 L913.8 537.8 L910.9 536.2 L913.5 534.8 L916.5 534.0 L921.9 534.8Z"/><path d="M912.5 581.3 L912.1 583.0 L909.7 583.6 L907.5 583.1 L906.4 581.5 L907.7 580.1 L908.9 579.4 L912.5 580.1ZM908.8 581.7h1.4v4.5h-1.4Z"/><path d="M1080.6 594.4 L1080.3 596.5 L1075.5 597.6 L1073.7 596.5 L1072.1 594.8 L1073.4 593.2 L1076.8 592.7 L1078.7 593.1Z"/><path d="M990.9 609.7 L989.5 611.7 L986.5 611.8 L984.4 611.4 L983.2 609.5 L984.9 607.8 L987.1 606.9 L990.9 608.0Z"/><path d="M1097.2 612.0 L1095.9 612.9 L1092.7 613.6 L1091.2 613.1 L1089.9 612.0 L1090.3 610.5 L1094.2 610.3 L1095.6 610.6Z"/><path d="M863.3 577.2 L861.9 578.2 L859.4 578.9 L857.0 578.7 L855.5 577.0 L856.6 575.5 L859.1 575.3 L862.6 575.7Z"/><path d="M1077.5 539.6 L1076.3 541.0 L1073.9 541.4 L1070.1 540.8 L1069.3 539.7 L1069.9 538.4 L1072.4 538.4 L1075.8 538.5Z"/><path d="M1048.8 642.4 L1047.4 643.3 L1044.8 644.5 L1041.6 643.3 L1039.9 641.9 L1041.4 640.0 L1045.0 639.4 L1047.5 640.3Z"/><path d="M913.7 560.2 L911.9 561.8 L909.9 562.3 L904.7 561.8 L904.7 560.3 L904.8 559.2 L910.1 558.2 L912.2 559.2Z"/><path d="M1134.9 629.5 L1133.2 631.1 L1131.0 631.2 L1128.8 631.1 L1127.5 629.8 L1128.8 628.5 L1130.7 628.1 L1134.0 628.6ZM1132.5 629.7h1.4v3.4h-1.4Z"/><path d="M1031.9 570.6 L1031.2 571.9 L1028.9 572.3 L1026.0 571.7 L1025.0 570.4 L1025.6 569.4 L1029.1 568.6 L1031.4 569.2ZM1027.7 570.5h1.4v3.2h-1.4Z"/><path d="M995.0 570.7 L994.1 572.4 L989.6 573.1 L987.8 572.4 L986.3 571.2 L987.3 569.9 L989.5 568.8 L993.5 569.9Z"/><path d="M997.2 601.1 L994.9 602.9 L992.1 604.1 L988.6 603.5 L986.9 602.0 L989.4 600.1 L991.5 599.6 L995.9 600.1Z"/><path d="M912.9 608.2 L911.4 609.5 L908.8 610.5 L905.1 609.1 L904.3 608.2 L905.4 606.8 L908.2 606.0 L910.1 606.7ZM907.8 608.1h1.4v4.1h-1.4Z"/><path d="M893.5 572.7 L892.1 574.0 L889.6 574.4 L886.3 573.3 L884.6 571.8 L886.8 570.7 L888.3 570.0 L891.4 570.5Z"/><path d="M906.5 547.9 L905.7 549.3 L900.9 550.2 L897.8 549.3 L896.4 548.4 L897.4 547.0 L901.4 546.2 L905.8 547.1Z"/><path d="M1134.0 559.8 L1133.0 561.1 L1127.7 561.7 L1123.4 561.3 L1121.9 559.4 L1124.5 557.6 L1128.8 556.6 L1132.2 558.0Z"/><path d="M933.4 547.4 L931.6 548.6 L930.0 549.4 L927.3 549.0 L926.4 546.9 L927.2 545.4 L929.8 545.0 L932.1 545.3ZM929.5 547.2h1.4v3.8h-1.4Z"/><path d="M1088.4 624.4 L1087.6 626.5 L1085.4 627.0 L1082.2 626.1 L1081.0 624.7 L1082.7 623.2 L1085.7 622.2 L1087.9 623.1Z"/><path d="M1040.2 620.0 L1038.3 621.1 L1036.2 621.5 L1032.4 620.6 L1032.0 619.7 L1032.0 618.2 L1036.0 617.9 L1039.0 618.6ZM1034.3 619.6h1.4v3.4h-1.4Z"/><path d="M1110.4 608.6 L1109.3 609.4 L1107.4 610.5 L1103.6 609.7 L1103.7 608.3 L1103.5 607.3 L1107.0 606.4 L1109.5 607.3Z"/><path d="M1047.8 596.0 L1047.3 598.1 L1044.0 598.7 L1040.4 597.5 L1039.9 595.8 L1040.7 594.6 L1043.9 594.2 L1046.7 594.2ZM1043.4 596.1h1.4v4.3h-1.4Z"/><path d="M962.0 579.0 L961.6 580.5 L958.4 581.7 L955.7 580.6 L953.9 579.5 L955.9 577.7 L958.8 576.5 L961.8 577.9Z"/><path d="M1155.5 569.2 L1155.4 571.0 L1152.6 571.7 L1149.8 571.2 L1148.7 569.1 L1149.6 567.6 L1152.0 566.6 L1154.3 567.3Z"/><path d="M1160.1 596.3 L1158.7 597.3 L1155.6 598.0 L1150.9 597.9 L1149.1 595.8 L1151.3 594.7 L1153.9 593.6 L1158.6 594.0Z"/><path d="M958.8 558.0 L957.1 559.5 L954.9 560.1 L952.0 559.2 L950.0 557.8 L951.1 555.5 L953.5 554.7 L956.5 555.5Z"/><path d="M892.8 611.5 L891.2 613.5 L889.1 613.8 L886.2 613.4 L885.2 612.1 L886.1 610.6 L888.9 609.9 L890.5 610.4ZM887.6 611.9h1.4v4.1h-1.4Z"/><path d="M1001.2 563.9 L998.6 565.4 L996.9 565.8 L992.8 565.7 L991.5 563.8 L992.6 562.1 L996.9 561.3 L998.9 562.3Z"/><path d="M925.2 623.2 L924.6 625.2 L921.2 625.4 L916.3 624.9 L916.8 623.4 L917.7 621.7 L920.6 620.6 L923.9 621.4Z"/><path d="M1072.5 578.2 L1070.4 579.8 L1068.3 580.0 L1065.0 579.6 L1064.9 578.2 L1065.4 577.0 L1067.9 575.9 L1071.5 576.5Z"/><path d="M1023.6 533.9 L1021.7 535.0 L1019.3 535.2 L1015.5 534.8 L1013.1 534.0 L1014.7 532.1 L1019.6 531.5 L1021.7 532.2ZM1017.2 533.5h1.4v3.8h-1.4Z"/><path d="M957.2 569.2 L957.1 570.0 L953.1 570.6 L949.4 570.1 L947.1 569.2 L949.1 567.4 L952.2 567.3 L956.0 567.8ZM952.0 569.0h1.4v3.4h-1.4Z"/><path d="M893.3 594.2 L892.9 596.3 L889.2 597.0 L887.5 596.2 L885.4 594.6 L887.1 592.6 L890.4 591.6 L892.4 592.7ZM888.6 594.3h1.4v4.9h-1.4Z"/><path d="M958.6 550.9 L957.4 553.0 L955.3 552.9 L952.8 552.2 L951.8 551.2 L952.6 549.6 L955.5 549.0 L957.0 549.2ZM955.1 550.9h1.4v4.2h-1.4Z"/><path d="M1057.1 529.8 L1055.8 531.3 L1054.0 531.5 L1050.7 531.4 L1049.2 530.1 L1049.8 528.3 L1052.9 528.1 L1056.0 528.6ZM1054.0 529.7h1.4v3.7h-1.4Z"/><path d="M1121.8 636.0 L1120.5 637.8 L1115.0 638.8 L1111.9 638.2 L1111.0 636.1 L1111.7 634.7 L1116.7 633.8 L1118.4 634.7Z"/><path d="M1070.0 537.1 L1068.8 539.5 L1065.0 539.5 L1062.4 539.5 L1060.9 537.3 L1062.2 536.0 L1066.1 534.8 L1068.7 535.5Z"/><path d="M932.0 533.9 L932.2 535.2 L929.4 536.2 L925.7 535.4 L925.0 534.0 L926.2 532.2 L928.8 531.7 L931.1 532.3Z"/><path d="M1104.8 571.6 L1102.5 572.8 L1099.8 573.4 L1095.7 572.6 L1094.9 571.4 L1095.8 570.8 L1099.8 569.9 L1102.8 570.7Z"/><path d="M1049.4 642.7 L1048.6 644.2 L1044.2 645.1 L1040.0 644.2 L1040.1 643.0 L1039.9 641.9 L1043.9 641.3 L1048.0 641.7Z"/><path d="M1147.2 611.1 L1146.4 612.6 L1142.2 612.9 L1139.7 612.5 L1137.8 610.9 L1140.0 610.1 L1142.1 609.6 L1147.6 610.0Z"/><path d="M1101.1 636.1 L1099.1 637.4 L1094.8 638.0 L1092.3 637.3 L1090.8 635.5 L1093.4 634.5 L1095.6 634.3 L1098.3 634.5Z"/><path d="M1105.2 588.2 L1104.3 590.5 L1101.5 591.0 L1098.9 590.1 L1096.9 588.8 L1098.1 586.8 L1101.9 585.3 L1104.2 586.2ZM1102.9 588.3h1.4v4.9h-1.4Z"/><path d="M1088.5 647.0 L1088.3 648.5 L1085.9 649.0 L1081.8 648.6 L1081.1 646.7 L1083.4 645.2 L1085.4 644.7 L1088.0 644.7Z"/><path d="M945.5 528.4 L944.6 529.5 L941.5 530.9 L939.1 530.0 L936.7 528.8 L938.5 526.4 L940.5 526.0 L945.3 527.1ZM941.0 528.4h1.4v4.1h-1.4Z"/></g>
<path d="M481 361.5 L817.3 361.5 L817.3 373.4 L813.8 373 L806.75 371.75 L750.0 372 L750.0 367.6 L746.75 367.6 L744.7 368.8 L745.5 373 L743.0 375.5 L738.8 376.75 L737.2 378.8 L734.7 383.8 L734.7 379.7 L730.5 378.8 L729.7 378 L733.0 377.2 L734.25 373.4 L732.6 368.8 L728.8 368 L727.2 368.8 L725.9 377.2 L724.7 380.5 L721.3 378 L720.5 373 L718.0 372.2 L712.0 371.3 L710.0 372.3 L711.7 375.3 L709.3 378 L704.0 380 L702.0 383.3 L700.0 384.7 L700.7 382 L703.3 380 L706.0 378.7 L706.7 376.7 L704.0 371.3 L702.0 370 L702.7 374 L700.0 376 L695.3 377 L691.3 377.3 L692.0 371 L686.7 372.3 L683.3 372 L677.3 372.3 L674.0 374 L668 370.5 L663.3 369.3 L660.7 368 L653.3 369.7 L644.7 371.7 L640.0 371 L638.0 372.7 L638.7 375.3 L637.3 379.3 L632.0 383 L630.0 386 L631.3 389.3 L626.7 389.3 L628.0 387.3 L628.7 384 L631.3 382 L632.0 376.7 L630.7 372.3 L626.7 371 L620.0 371.3 L611.3 372.3 L606.7 371.3 L602.7 370.3 L601.3 373 L596.3 374.7 L595.3 378 L596.3 384.7 L598.0 388.7 L596.7 390.7 L596.0 387.3 L593.7 384 L593.3 376.7 L592.7 373 L588.0 371.3 L579.3 371.7 L573.3 370.3 L570.0 371.3 L566.0 371.7 L563.3 369 L560.0 368 L555.3 367.7 L554.7 373.3 L554.0 379.3 L552.3 372.7 L551.3 371 L545.3 370 L540.0 370.3 L537.3 371.7 L535.3 369.3 L533.3 371.3 L532.0 373.3 L527.3 373.7 L526.7 368.7 L524.0 367.3 L503.0 367.7 L499.3 372 L493.3 374.3 L491.3 376 L491.7 379.3 L494.0 384.7 L494.3 387.3 L492.3 384.3 L488.7 381.3 L487.0 377.3 L487.3 374 L484.7 375 L481.0 376 Z M481 381.5 L483 383 L485 386.5 L484 386.8 L481 384.5 Z M785.5 382 L789 382 L788.6 388 L789.2 394 L788.3 398 L787 394 L786 388 Z" fill="url(#alg)"/>
<rect x="750.1" y="362.7" width="56.6" height="19.5" fill="#808000"/>
<text x="778.4" y="378" text-anchor="middle" font-size="14" fill="#f6f6e0">ice algae</text>
<circle cx="778.3" cy="50.5" r="40" fill="#f0e68c" filter="url(#sunblur)"/>
<circle cx="1144.2" cy="50.5" r="40" fill="#f0e68c" filter="url(#sunblur)"/>
<text x="498" y="44.7" font-size="17" font-weight="bold" fill="#1a1a1a">c</text>
<text x="572.2" y="104" font-size="16.3" fill="#706c6e">high surface albedo</text>
<text x="808.3" y="168.1" text-anchor="end" font-size="16.5" fill="#3a5ea8">AIR</text>
<text x="804.8" y="282.1" text-anchor="end" font-size="16.6" fill="#3a5ea8">ICE</text>
<text x="497.9" y="199.7" font-size="12" fill="#3a5aa8">SSL</text>
<text x="512.6" y="239.7" text-anchor="middle" font-size="12" fill="#3a5aa8">DL</text>
<text x="512" y="312" text-anchor="middle" font-size="12" fill="#3a5aa8">INT</text>
<text x="549.2" y="416.4" text-anchor="middle" font-size="16.3" fill="#ffffff">scalar irradiance</text>
<text x="551" y="436.1" text-anchor="middle" font-size="16.3" fill="#ffffff">collector</text>
<text x="800.2" y="647.3" text-anchor="end" font-size="16.9" letter-spacing="-0.3" fill="#ffffff">ICE-COVERED</text>
<text x="800.2" y="667" text-anchor="end" font-size="16.9" fill="#ffffff">WATER</text>
<line x1="490" y1="195.7" x2="490" y2="191" stroke="#6f93dc" stroke-width="1.4"/><polygon points="490,199.9 495.0,190.4 490,195.7 485.0,190.4" fill="#3e66c6"/>
<line x1="490" y1="214.1" x2="490" y2="218.8" stroke="#6f93dc" stroke-width="1.4"/><polygon points="490,209.9 495.0,219.4 490,214.1 485.0,219.4" fill="#3e66c6"/>
<line x1="512" y1="214.6" x2="512" y2="224.3" stroke="#6f93dc" stroke-width="1.4"/><polygon points="512,210.4 517.0,219.9 512,214.6 507.0,219.9" fill="#3e66c6"/>
<line x1="512" y1="258.1" x2="512" y2="247.5" stroke="#6f93dc" stroke-width="1.4"/><polygon points="512,262.3 517.0,252.8 512,258.1 507.0,252.8" fill="#3e66c6"/>
<line x1="512" y1="268.8" x2="512" y2="293.5" stroke="#6f93dc" stroke-width="1.4"/><polygon points="512,264.6 517.0,274.1 512,268.8 507.0,274.1" fill="#3e66c6"/>
<line x1="512" y1="354.0" x2="512" y2="321" stroke="#6f93dc" stroke-width="1.4"/><polygon points="512,358.2 517.0,348.7 512,354.0 507.0,348.7" fill="#3e66c6"/>
<polygon points="726.4,108.2 731.9,113.6 649.3,202 568.13,120.77 571.57,117.43 646.9,192.8" fill="#f59b00"/>
<polygon points="560,109 574.7,114.3 565,123.9" fill="#f59b00"/>
<line x1="573.60" y1="210.20" x2="552.21" y2="220.18" stroke="#f59b00" stroke-width="2.3"/><polygon points="543.60,224.20 550.65,215.67 554.67,224.28" fill="#f59b00"/>
<line x1="573.60" y1="210.20" x2="551.45" y2="242.75" stroke="#f59b00" stroke-width="2.3"/><polygon points="546.10,250.60 547.80,239.66 555.65,245.01" fill="#f59b00"/>
<line x1="573.60" y1="210.20" x2="568.40" y2="259.45" stroke="#f59b00" stroke-width="2.3"/><polygon points="567.40,268.90 563.73,258.46 573.17,259.45" fill="#f59b00"/>
<line x1="573.60" y1="210.20" x2="594.12" y2="245.39" stroke="#f59b00" stroke-width="2.3"/><polygon points="598.90,253.60 589.76,247.35 597.97,242.57" fill="#f59b00"/>
<line x1="573.60" y1="210.20" x2="596.43" y2="226.24" stroke="#f59b00" stroke-width="2.3"/><polygon points="604.20,231.70 593.29,229.84 598.75,222.06" fill="#f59b00"/>
<line x1="735.40" y1="259.40" x2="732.41" y2="235.03" stroke="#f59b00" stroke-width="2.7"/><polygon points="731.25,225.60 737.18,234.95 727.75,236.10" fill="#f59b00"/>
<line x1="735.40" y1="259.40" x2="756.67" y2="240.34" stroke="#f59b00" stroke-width="2.7"/><polygon points="763.75,234.00 759.47,244.21 753.13,237.14" fill="#f59b00"/>
<line x1="735.40" y1="259.40" x2="704.78" y2="246.73" stroke="#f59b00" stroke-width="2.7"/><polygon points="696.00,243.10 707.06,242.53 703.42,251.31" fill="#f59b00"/>
<line x1="735.40" y1="259.40" x2="703.41" y2="276.19" stroke="#f59b00" stroke-width="2.7"/><polygon points="695.00,280.60 701.65,271.75 706.06,280.16" fill="#f59b00"/>
<line x1="735.40" y1="259.40" x2="730.29" y2="290.62" stroke="#f59b00" stroke-width="2.7"/><polygon points="728.75,300.00 725.68,289.36 735.05,290.90" fill="#f59b00"/>
<line x1="735.40" y1="259.40" x2="761.78" y2="281.93" stroke="#f59b00" stroke-width="2.7"/><polygon points="769.00,288.10 758.31,285.22 764.48,277.99" fill="#f59b00"/>
<line x1="635.40" y1="318.75" x2="635.40" y2="301.60" stroke="#f59b00" stroke-width="2.4"/><polygon points="635.40,292.10 640.15,302.10 630.65,302.10" fill="#f59b00"/>
<line x1="635.40" y1="318.75" x2="650.43" y2="313.00" stroke="#f59b00" stroke-width="2.4"/><polygon points="659.30,309.60 651.66,317.61 648.26,308.74" fill="#f59b00"/>
<line x1="635.40" y1="318.75" x2="620.28" y2="311.57" stroke="#f59b00" stroke-width="2.4"/><polygon points="611.70,307.50 622.77,307.50 618.70,316.08" fill="#f59b00"/>
<line x1="635.40" y1="318.75" x2="618.74" y2="331.06" stroke="#f59b00" stroke-width="2.4"/><polygon points="611.10,336.70 616.32,326.94 621.97,334.58" fill="#f59b00"/>
<line x1="635.40" y1="318.75" x2="653.28" y2="336.59" stroke="#f59b00" stroke-width="2.4"/><polygon points="660.00,343.30 649.57,339.60 656.28,332.87" fill="#f59b00"/>
<line x1="635.40" y1="318.75" x2="635.68" y2="342.20" stroke="#f59b00" stroke-width="2.4"/><polygon points="635.80,351.70 630.93,341.76 640.43,341.64" fill="#f59b00"/>
<line x1="656.90" y1="442.10" x2="637.55" y2="452.58" stroke="#f59b00" stroke-width="2.8"/><polygon points="629.20,457.10 635.73,448.16 640.26,456.52" fill="#f59b00"/>
<line x1="656.90" y1="442.10" x2="675.69" y2="452.50" stroke="#f59b00" stroke-width="2.8"/><polygon points="684.00,457.10 672.95,456.41 677.55,448.10" fill="#f59b00"/>
<line x1="656.90" y1="442.10" x2="633.93" y2="473.35" stroke="#f59b00" stroke-width="2.8"/><polygon points="628.30,481.00 630.40,470.13 638.05,475.76" fill="#f59b00"/>
<line x1="656.90" y1="442.10" x2="678.66" y2="474.14" stroke="#f59b00" stroke-width="2.8"/><polygon points="684.00,482.00 674.45,476.40 682.31,471.06" fill="#f59b00"/>
<line x1="656.90" y1="442.10" x2="636.45" y2="500.24" stroke="#f59b00" stroke-width="2.8"/><polygon points="633.30,509.20 632.14,498.19 641.10,501.34" fill="#f59b00"/>
<line x1="656.90" y1="442.10" x2="670.15" y2="505.10" stroke="#f59b00" stroke-width="2.8"/><polygon points="672.10,514.40 665.39,505.59 674.69,503.64" fill="#f59b00"/>
<line x1="656.90" y1="442.10" x2="651.06" y2="561.76" stroke="#f59b00" stroke-width="2.8"/><polygon points="650.60,571.25 646.34,561.03 655.83,561.49" fill="#f59b00"/>
<polyline points="668,401 668,416.8 621.8,416.8" fill="none" stroke="#ffffff" stroke-width="2.6"/>
<rect x="663.8" y="384.5" width="6.6" height="18.5" fill="#6a6a6a" />
<rect x="666" y="385.5" width="2.2" height="16.5" fill="#262626" />
<circle cx="666.9" cy="377.6" r="7.9" fill="url(#ball)"/>
<text x="862" y="48.8" font-size="16" fill="#1a1a1a">d</text>
<text x="901.2" y="136.4" font-size="16.3" fill="#706c6e">low surface albedo</text>
<text x="1161" y="168.2" text-anchor="end" font-size="16.6" fill="#3a5ea8">AIR</text>
<text x="1165.2" y="267.4" text-anchor="end" font-size="16.5" fill="#ffffff">OPEN WATER</text>
<text x="1105.7" y="486.6" text-anchor="middle" font-size="16.2" fill="#ffffff">scalar irradiance</text>
<text x="1107.8" y="505.9" text-anchor="middle" font-size="16.6" fill="#ffffff">collector</text>
<line x1="1091.1" y1="113.2" x2="1008.5" y2="200.9" stroke="#f59b00" stroke-width="7.6"/>
<line x1="1006.10" y1="198.30" x2="982.14" y2="181.80" stroke="#f59b00" stroke-width="1.3"/><polygon points="971.10,174.20 986.60,176.19 978.49,187.97" fill="#f59b00"/>
<line x1="997.10" y1="231.10" x2="978.60" y2="241.91" stroke="#f59b00" stroke-width="2.8"/><polygon points="970.40,246.70 976.64,237.55 981.43,245.76" fill="#f59b00"/>
<line x1="997.10" y1="231.10" x2="1016.99" y2="240.38" stroke="#f59b00" stroke-width="2.8"/><polygon points="1025.60,244.40 1014.53,244.48 1018.55,235.87" fill="#f59b00"/>
<line x1="997.10" y1="231.10" x2="976.34" y2="262.48" stroke="#f59b00" stroke-width="2.8"/><polygon points="971.10,270.40 972.66,259.44 980.58,264.68" fill="#f59b00"/>
<line x1="997.10" y1="231.10" x2="1020.33" y2="262.37" stroke="#f59b00" stroke-width="2.8"/><polygon points="1026.00,270.00 1016.22,264.81 1023.85,259.14" fill="#f59b00"/>
<line x1="997.10" y1="231.10" x2="979.79" y2="289.79" stroke="#f59b00" stroke-width="2.8"/><polygon points="977.10,298.90 975.37,287.96 984.49,290.65" fill="#f59b00"/>
<line x1="997.10" y1="231.10" x2="1014.18" y2="293.04" stroke="#f59b00" stroke-width="2.8"/><polygon points="1016.70,302.20 1009.46,293.82 1018.62,291.30" fill="#f59b00"/>
<line x1="997.10" y1="231.10" x2="996.73" y2="349.80" stroke="#f59b00" stroke-width="2.8"/><polygon points="996.70,359.30 991.98,349.29 1001.48,349.31" fill="#f59b00"/>
<polyline points="1000,472 1000,487 1032.1,487" fill="none" stroke="#ffffff" stroke-width="2.6"/>
<rect x="996.8" y="455" width="6.6" height="18.5" fill="#6a6a6a" />
<rect x="999" y="456" width="2.2" height="16.5" fill="#262626" />
<circle cx="1000.1" cy="447.7" r="7.9" fill="url(#ball)"/>
</svg>
</body></html>
